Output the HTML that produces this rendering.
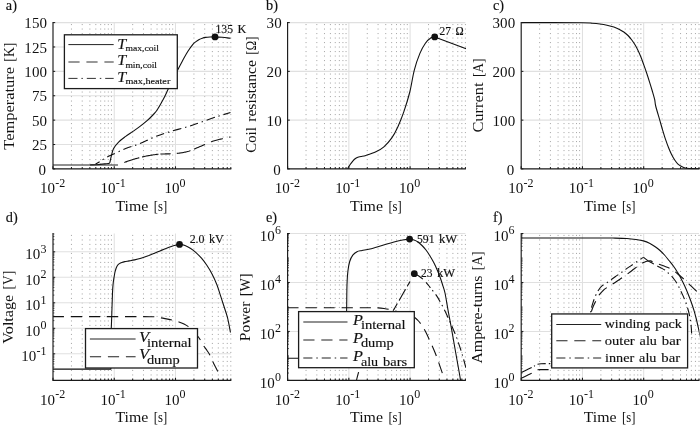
<!DOCTYPE html>
<html><head><meta charset="utf-8"><title>Quench simulation results</title>
<style>html,body{margin:0;padding:0;background:#fff;}body{width:700px;height:426px;overflow:hidden;font-family:"Liberation Serif",serif;}svg{display:block;will-change:transform;opacity:0.999}</style>
</head><body>
<svg width="700" height="426" viewBox="0 0 700 426" fill="#111">
<rect width="700" height="426" fill="#fff"/>
<clipPath id="c00"><rect x="53.00" y="21.60" width="178.40" height="147.80"/></clipPath>
<line x1="71.44" y1="24.00" x2="71.44" y2="168.90" stroke="#aaaaaa" stroke-width="1" stroke-dasharray="1.1 3.4"/>
<line x1="82.22" y1="24.00" x2="82.22" y2="168.90" stroke="#aaaaaa" stroke-width="1" stroke-dasharray="1.1 3.4"/>
<line x1="89.87" y1="24.00" x2="89.87" y2="168.90" stroke="#aaaaaa" stroke-width="1" stroke-dasharray="1.1 3.4"/>
<line x1="95.81" y1="24.00" x2="95.81" y2="168.90" stroke="#aaaaaa" stroke-width="1" stroke-dasharray="1.1 3.4"/>
<line x1="100.66" y1="24.00" x2="100.66" y2="168.90" stroke="#aaaaaa" stroke-width="1" stroke-dasharray="1.1 3.4"/>
<line x1="104.76" y1="24.00" x2="104.76" y2="168.90" stroke="#aaaaaa" stroke-width="1" stroke-dasharray="1.1 3.4"/>
<line x1="108.31" y1="24.00" x2="108.31" y2="168.90" stroke="#aaaaaa" stroke-width="1" stroke-dasharray="1.1 3.4"/>
<line x1="111.44" y1="24.00" x2="111.44" y2="168.90" stroke="#aaaaaa" stroke-width="1" stroke-dasharray="1.1 3.4"/>
<line x1="132.68" y1="24.00" x2="132.68" y2="168.90" stroke="#aaaaaa" stroke-width="1" stroke-dasharray="1.1 3.4"/>
<line x1="143.47" y1="24.00" x2="143.47" y2="168.90" stroke="#aaaaaa" stroke-width="1" stroke-dasharray="1.1 3.4"/>
<line x1="151.12" y1="24.00" x2="151.12" y2="168.90" stroke="#aaaaaa" stroke-width="1" stroke-dasharray="1.1 3.4"/>
<line x1="157.05" y1="24.00" x2="157.05" y2="168.90" stroke="#aaaaaa" stroke-width="1" stroke-dasharray="1.1 3.4"/>
<line x1="161.90" y1="24.00" x2="161.90" y2="168.90" stroke="#aaaaaa" stroke-width="1" stroke-dasharray="1.1 3.4"/>
<line x1="166.00" y1="24.00" x2="166.00" y2="168.90" stroke="#aaaaaa" stroke-width="1" stroke-dasharray="1.1 3.4"/>
<line x1="169.55" y1="24.00" x2="169.55" y2="168.90" stroke="#aaaaaa" stroke-width="1" stroke-dasharray="1.1 3.4"/>
<line x1="172.69" y1="24.00" x2="172.69" y2="168.90" stroke="#aaaaaa" stroke-width="1" stroke-dasharray="1.1 3.4"/>
<line x1="193.93" y1="24.00" x2="193.93" y2="168.90" stroke="#aaaaaa" stroke-width="1" stroke-dasharray="1.1 3.4"/>
<line x1="204.71" y1="24.00" x2="204.71" y2="168.90" stroke="#aaaaaa" stroke-width="1" stroke-dasharray="1.1 3.4"/>
<line x1="212.36" y1="24.00" x2="212.36" y2="168.90" stroke="#aaaaaa" stroke-width="1" stroke-dasharray="1.1 3.4"/>
<line x1="218.30" y1="24.00" x2="218.30" y2="168.90" stroke="#aaaaaa" stroke-width="1" stroke-dasharray="1.1 3.4"/>
<line x1="223.15" y1="24.00" x2="223.15" y2="168.90" stroke="#aaaaaa" stroke-width="1" stroke-dasharray="1.1 3.4"/>
<line x1="227.25" y1="24.00" x2="227.25" y2="168.90" stroke="#aaaaaa" stroke-width="1" stroke-dasharray="1.1 3.4"/>
<line x1="230.80" y1="24.00" x2="230.80" y2="168.90" stroke="#aaaaaa" stroke-width="1" stroke-dasharray="1.1 3.4"/>
<line x1="114.25" y1="22.60" x2="114.25" y2="168.90" stroke="#e0e0e0" stroke-width="1.05"/>
<line x1="175.49" y1="22.60" x2="175.49" y2="168.90" stroke="#e0e0e0" stroke-width="1.05"/>
<line x1="53.00" y1="144.52" x2="230.80" y2="144.52" stroke="#e0e0e0" stroke-width="1.05"/>
<line x1="53.00" y1="120.13" x2="230.80" y2="120.13" stroke="#e0e0e0" stroke-width="1.05"/>
<line x1="53.00" y1="95.75" x2="230.80" y2="95.75" stroke="#e0e0e0" stroke-width="1.05"/>
<line x1="53.00" y1="71.37" x2="230.80" y2="71.37" stroke="#e0e0e0" stroke-width="1.05"/>
<line x1="53.00" y1="46.98" x2="230.80" y2="46.98" stroke="#e0e0e0" stroke-width="1.05"/>
<line x1="53.00" y1="22.60" x2="230.80" y2="22.60" stroke="#e0e0e0" stroke-width="1.05"/>
<path d="M90.00,164.95 C91.17,164.91 94.50,164.88 97.00,164.70 C99.50,164.52 102.95,164.13 105.00,163.90 C107.05,163.67 108.43,163.78 109.30,163.30 C110.17,162.82 109.85,162.27 110.20,161.00 C110.55,159.73 110.83,157.77 111.40,155.70 C111.97,153.63 112.40,150.87 113.60,148.60 C114.80,146.33 116.58,144.13 118.60,142.10 C120.62,140.07 123.32,138.18 125.70,136.40 C128.08,134.62 130.52,133.07 132.90,131.40 C135.28,129.73 137.63,128.18 140.00,126.40 C142.37,124.62 144.95,122.60 147.10,120.70 C149.25,118.80 151.23,116.78 152.90,115.00 C154.57,113.22 155.37,112.62 157.10,110.00 C158.83,107.38 161.40,102.88 163.30,99.30 C165.20,95.72 166.88,91.80 168.50,88.50 C170.12,85.20 171.53,82.47 173.00,79.50 C174.47,76.53 175.75,73.75 177.30,70.70 C178.85,67.65 180.58,64.37 182.30,61.20 C184.02,58.03 185.83,54.52 187.60,51.70 C189.37,48.88 191.50,45.98 192.90,44.30 C194.30,42.62 194.95,42.40 196.00,41.60 C197.05,40.80 198.15,40.07 199.20,39.50 C200.25,38.93 201.25,38.55 202.30,38.20 C203.35,37.85 204.22,37.60 205.50,37.40 C206.78,37.20 208.42,37.08 210.00,37.00 C211.58,36.92 213.00,36.85 215.00,36.90 C217.00,36.95 219.42,37.07 222.00,37.30 C224.58,37.53 229.08,38.13 230.50,38.30" fill="none" stroke="#111" stroke-width="1.1" clip-path="url(#c00)" stroke-linejoin="round" />
<path d="M95.70,164.00 C96.42,163.58 98.57,162.40 100.00,161.50 C101.43,160.60 102.40,159.68 104.30,158.60 C106.20,157.52 107.83,156.67 111.40,155.00 C114.97,153.33 120.93,150.50 125.70,148.60 C130.47,146.70 135.23,145.52 140.00,143.60 C144.77,141.68 149.53,139.02 154.30,137.10 C159.07,135.18 162.88,133.88 168.60,132.10 C174.32,130.32 183.37,128.00 188.60,126.40 C193.83,124.80 195.60,124.02 200.00,122.50 C204.40,120.98 209.92,118.97 215.00,117.30 C220.08,115.63 227.92,113.30 230.50,112.50" fill="none" stroke="#111" stroke-width="1.1" stroke-dasharray="8.7 3.8 1.4 3.8" clip-path="url(#c00)" stroke-linejoin="round" stroke-dashoffset="4.2"/>
<line x1="53" y1="164.95" x2="118" y2="164.95" stroke="#222" stroke-width="1.1"/>
<path d="M124.30,162.40 L124.40,162.40 L124.82,162.26 L125.34,162.07 L125.96,161.86 L126.66,161.61 L127.42,161.35 L128.21,161.07 L129.03,160.78 L129.86,160.50 L130.68,160.22 L131.47,159.96 L132.22,159.72 L132.90,159.50 L133.54,159.31 L134.15,159.12 L134.75,158.95 L135.34,158.79 L135.91,158.63 L136.48,158.47 L137.05,158.33 L137.61,158.18 L138.17,158.04 L138.74,157.89 L139.30,157.75 M142.10,157.02 L142.12,157.02 L142.66,156.88 L143.21,156.74 L143.78,156.60 L144.37,156.46 L144.99,156.32 L145.64,156.18 L146.35,156.04 L147.10,155.90 L147.91,155.75 L148.78,155.60 L149.70,155.44 L150.65,155.29 L151.64,155.13 L152.64,154.97 L153.67,154.82 L154.69,154.67 L155.72,154.53 L156.73,154.41 L157.73,154.30 L158.50,154.22 M160.40,154.08 L160.63,154.06 L161.61,154.01 L162.59,153.98 L163.57,153.95 L164.54,153.93 L165.50,153.92 L166.44,153.90 L167.37,153.88 L168.28,153.86 L169.15,153.84 L170.00,153.80 L170.70,153.77 M176.80,153.41 L177.12,153.38 L177.84,153.30 L178.60,153.20 L179.38,153.09 L180.17,152.98 L180.97,152.86 L181.78,152.73 L182.60,152.60 L183.42,152.45 L184.26,152.29 L185.11,152.11 L185.97,151.92 L186.84,151.70 L187.71,151.46 L188.60,151.20 L189.50,150.91 L190.40,150.59 M194.00,149.17 L194.14,149.11 L195.10,148.70 L196.07,148.28 L197.04,147.86 L198.02,147.44 L199.01,147.02 L200.00,146.60 L201.01,146.17 L202.04,145.73 L203.09,145.26 L204.16,144.79 L205.00,144.41 M211.00,141.86 L211.52,141.65 L212.50,141.30 L213.45,140.98 L214.40,140.69 L215.34,140.42 L216.26,140.17 L217.17,139.93 L218.06,139.72 L218.94,139.52 L219.80,139.32 L220.63,139.14 L221.45,138.96 L222.24,138.78 L222.80,138.65 M229.20,137.27 L229.22,137.26 L229.72,137.16 L230.15,137.07 L230.30,137.04 " fill="none" stroke="#111" stroke-width="1.1" clip-path="url(#c00)" stroke-linejoin="round" />
<line x1="53.00" y1="168.90" x2="53.00" y2="166.30" stroke="#1a1a1a" stroke-width="1.1"/>
<line x1="71.44" y1="168.90" x2="71.44" y2="167.00" stroke="#1a1a1a" stroke-width="1"/>
<line x1="82.22" y1="168.90" x2="82.22" y2="167.00" stroke="#1a1a1a" stroke-width="1"/>
<line x1="89.87" y1="168.90" x2="89.87" y2="167.00" stroke="#1a1a1a" stroke-width="1"/>
<line x1="95.81" y1="168.90" x2="95.81" y2="167.00" stroke="#1a1a1a" stroke-width="1"/>
<line x1="100.66" y1="168.90" x2="100.66" y2="167.00" stroke="#1a1a1a" stroke-width="1"/>
<line x1="104.76" y1="168.90" x2="104.76" y2="167.00" stroke="#1a1a1a" stroke-width="1"/>
<line x1="108.31" y1="168.90" x2="108.31" y2="167.00" stroke="#1a1a1a" stroke-width="1"/>
<line x1="111.44" y1="168.90" x2="111.44" y2="167.00" stroke="#1a1a1a" stroke-width="1"/>
<line x1="114.25" y1="168.90" x2="114.25" y2="166.30" stroke="#1a1a1a" stroke-width="1.1"/>
<line x1="132.68" y1="168.90" x2="132.68" y2="167.00" stroke="#1a1a1a" stroke-width="1"/>
<line x1="143.47" y1="168.90" x2="143.47" y2="167.00" stroke="#1a1a1a" stroke-width="1"/>
<line x1="151.12" y1="168.90" x2="151.12" y2="167.00" stroke="#1a1a1a" stroke-width="1"/>
<line x1="157.05" y1="168.90" x2="157.05" y2="167.00" stroke="#1a1a1a" stroke-width="1"/>
<line x1="161.90" y1="168.90" x2="161.90" y2="167.00" stroke="#1a1a1a" stroke-width="1"/>
<line x1="166.00" y1="168.90" x2="166.00" y2="167.00" stroke="#1a1a1a" stroke-width="1"/>
<line x1="169.55" y1="168.90" x2="169.55" y2="167.00" stroke="#1a1a1a" stroke-width="1"/>
<line x1="172.69" y1="168.90" x2="172.69" y2="167.00" stroke="#1a1a1a" stroke-width="1"/>
<line x1="175.49" y1="168.90" x2="175.49" y2="166.30" stroke="#1a1a1a" stroke-width="1.1"/>
<line x1="193.93" y1="168.90" x2="193.93" y2="167.00" stroke="#1a1a1a" stroke-width="1"/>
<line x1="204.71" y1="168.90" x2="204.71" y2="167.00" stroke="#1a1a1a" stroke-width="1"/>
<line x1="212.36" y1="168.90" x2="212.36" y2="167.00" stroke="#1a1a1a" stroke-width="1"/>
<line x1="218.30" y1="168.90" x2="218.30" y2="167.00" stroke="#1a1a1a" stroke-width="1"/>
<line x1="223.15" y1="168.90" x2="223.15" y2="167.00" stroke="#1a1a1a" stroke-width="1"/>
<line x1="227.25" y1="168.90" x2="227.25" y2="167.00" stroke="#1a1a1a" stroke-width="1"/>
<line x1="230.80" y1="168.90" x2="230.80" y2="167.00" stroke="#1a1a1a" stroke-width="1"/>
<line x1="53.00" y1="168.90" x2="55.20" y2="168.90" stroke="#1a1a1a" stroke-width="1"/>
<line x1="53.00" y1="144.52" x2="55.20" y2="144.52" stroke="#1a1a1a" stroke-width="1"/>
<line x1="53.00" y1="120.13" x2="55.20" y2="120.13" stroke="#1a1a1a" stroke-width="1"/>
<line x1="53.00" y1="95.75" x2="55.20" y2="95.75" stroke="#1a1a1a" stroke-width="1"/>
<line x1="53.00" y1="71.37" x2="55.20" y2="71.37" stroke="#1a1a1a" stroke-width="1"/>
<line x1="53.00" y1="46.98" x2="55.20" y2="46.98" stroke="#1a1a1a" stroke-width="1"/>
<line x1="53.00" y1="22.60" x2="55.20" y2="22.60" stroke="#1a1a1a" stroke-width="1"/>
<path d="M53.00,22.10 L53.00,168.90 L231.30,168.90" fill="none" stroke="#1a1a1a" stroke-width="1.15"/>
<text x="40.10" y="193.30" font-size="15" font-family="Liberation Serif, serif">10<tspan dy="-6.7" dx="0.2" font-size="12">-2</tspan></text>
<text x="100.55" y="193.30" font-size="15" font-family="Liberation Serif, serif">10<tspan dy="-6.7" dx="0.2" font-size="12">-1</tspan></text>
<text x="164.39" y="193.30" font-size="15" font-family="Liberation Serif, serif">10<tspan dy="-6.7" dx="0.2" font-size="12">0</tspan></text>
<text x="46.20" y="175.30" font-size="15" text-anchor="end" letter-spacing="0.15" font-family="Liberation Serif, serif">0</text>
<text x="47.20" y="150.22" font-size="15" text-anchor="end" letter-spacing="0.15" font-family="Liberation Serif, serif">25</text>
<text x="47.20" y="125.83" font-size="15" text-anchor="end" letter-spacing="0.15" font-family="Liberation Serif, serif">50</text>
<text x="47.20" y="101.45" font-size="15" text-anchor="end" letter-spacing="0.15" font-family="Liberation Serif, serif">75</text>
<text x="47.20" y="77.07" font-size="15" text-anchor="end" letter-spacing="0.15" font-family="Liberation Serif, serif">100</text>
<text x="47.20" y="52.68" font-size="15" text-anchor="end" letter-spacing="0.15" font-family="Liberation Serif, serif">125</text>
<text x="47.20" y="28.30" font-size="15" text-anchor="end" letter-spacing="0.15" font-family="Liberation Serif, serif">150</text>
<text x="115.49" y="210.90" font-size="14.82" textLength="32.90" lengthAdjust="spacingAndGlyphs"  font-family="Liberation Serif, serif">Time</text>
<text x="153.78" y="210.90" font-size="14.82" textLength="13.44" lengthAdjust="spacingAndGlyphs"  font-family="Liberation Serif, serif">[s]</text>
<g transform="translate(13.70,96.10) rotate(-90)"><text x="-53.63" y="0" font-size="14.82" textLength="82.71" lengthAdjust="spacingAndGlyphs"  font-family="Liberation Serif, serif">Temperature</text><text x="34.46" y="0" font-size="14.82" textLength="19.07" lengthAdjust="spacingAndGlyphs"  font-family="Liberation Serif, serif">[K]</text></g>
<text x="5.80" y="10.20" font-size="14.3" stroke="#111" stroke-width="0.15" font-family="Liberation Serif, serif">a)</text>
<circle cx="215.00" cy="36.90" r="3.4" fill="#111"/>
<text x="215.50" y="33.00" font-size="12.50" textLength="17.50" lengthAdjust="spacingAndGlyphs" stroke="#111" stroke-width="0.15" font-family="Liberation Serif, serif">135</text>
<text x="237.50" y="33.00" font-size="12.50" textLength="8.84" lengthAdjust="spacingAndGlyphs" stroke="#111" stroke-width="0.15" font-family="Liberation Serif, serif">K</text>
<rect x="64.40" y="34.80" width="112.90" height="53.80" fill="#fff" stroke="#1c1c1c" stroke-width="1.3"/>
<line x1="68.40" y1="44.60" x2="113.70" y2="44.60" stroke="#222" stroke-width="1.0"/>
<text x="117.20" y="48.60" font-size="13.6" font-style="italic" textLength="8.9" lengthAdjust="spacingAndGlyphs" stroke="#111" stroke-width="0.15" font-family="Liberation Serif, serif">T</text>
<text x="125.40" y="51.00" font-size="9.14" textLength="33.45" lengthAdjust="spacingAndGlyphs" stroke="#111" stroke-width="0.15" font-family="Liberation Serif, serif">max,coil</text>
<line x1="68.40" y1="62.00" x2="113.70" y2="62.00" stroke="#333" stroke-width="1.1" stroke-dasharray="11.2 6.8"/>
<text x="117.20" y="65.30" font-size="13.6" font-style="italic" textLength="8.9" lengthAdjust="spacingAndGlyphs" stroke="#111" stroke-width="0.15" font-family="Liberation Serif, serif">T</text>
<text x="125.40" y="67.70" font-size="9.14" textLength="31.64" lengthAdjust="spacingAndGlyphs" stroke="#111" stroke-width="0.15" font-family="Liberation Serif, serif">min,coil</text>
<line x1="68.40" y1="78.40" x2="113.70" y2="78.40" stroke="#333" stroke-width="1.0" stroke-dasharray="9.1 3.9 1.5 3.9"/>
<text x="117.20" y="82.00" font-size="13.6" font-style="italic" textLength="8.9" lengthAdjust="spacingAndGlyphs" stroke="#111" stroke-width="0.15" font-family="Liberation Serif, serif">T</text>
<text x="125.40" y="84.40" font-size="9.14" textLength="44.88" lengthAdjust="spacingAndGlyphs" stroke="#111" stroke-width="0.15" font-family="Liberation Serif, serif">max,heater</text>
<clipPath id="c10"><rect x="287.60" y="21.60" width="178.40" height="147.80"/></clipPath>
<line x1="306.04" y1="24.00" x2="306.04" y2="168.90" stroke="#aaaaaa" stroke-width="1" stroke-dasharray="1.1 3.4"/>
<line x1="316.82" y1="24.00" x2="316.82" y2="168.90" stroke="#aaaaaa" stroke-width="1" stroke-dasharray="1.1 3.4"/>
<line x1="324.47" y1="24.00" x2="324.47" y2="168.90" stroke="#aaaaaa" stroke-width="1" stroke-dasharray="1.1 3.4"/>
<line x1="330.41" y1="24.00" x2="330.41" y2="168.90" stroke="#aaaaaa" stroke-width="1" stroke-dasharray="1.1 3.4"/>
<line x1="335.26" y1="24.00" x2="335.26" y2="168.90" stroke="#aaaaaa" stroke-width="1" stroke-dasharray="1.1 3.4"/>
<line x1="339.36" y1="24.00" x2="339.36" y2="168.90" stroke="#aaaaaa" stroke-width="1" stroke-dasharray="1.1 3.4"/>
<line x1="342.91" y1="24.00" x2="342.91" y2="168.90" stroke="#aaaaaa" stroke-width="1" stroke-dasharray="1.1 3.4"/>
<line x1="346.04" y1="24.00" x2="346.04" y2="168.90" stroke="#aaaaaa" stroke-width="1" stroke-dasharray="1.1 3.4"/>
<line x1="367.28" y1="24.00" x2="367.28" y2="168.90" stroke="#aaaaaa" stroke-width="1" stroke-dasharray="1.1 3.4"/>
<line x1="378.07" y1="24.00" x2="378.07" y2="168.90" stroke="#aaaaaa" stroke-width="1" stroke-dasharray="1.1 3.4"/>
<line x1="385.72" y1="24.00" x2="385.72" y2="168.90" stroke="#aaaaaa" stroke-width="1" stroke-dasharray="1.1 3.4"/>
<line x1="391.65" y1="24.00" x2="391.65" y2="168.90" stroke="#aaaaaa" stroke-width="1" stroke-dasharray="1.1 3.4"/>
<line x1="396.50" y1="24.00" x2="396.50" y2="168.90" stroke="#aaaaaa" stroke-width="1" stroke-dasharray="1.1 3.4"/>
<line x1="400.60" y1="24.00" x2="400.60" y2="168.90" stroke="#aaaaaa" stroke-width="1" stroke-dasharray="1.1 3.4"/>
<line x1="404.15" y1="24.00" x2="404.15" y2="168.90" stroke="#aaaaaa" stroke-width="1" stroke-dasharray="1.1 3.4"/>
<line x1="407.29" y1="24.00" x2="407.29" y2="168.90" stroke="#aaaaaa" stroke-width="1" stroke-dasharray="1.1 3.4"/>
<line x1="428.53" y1="24.00" x2="428.53" y2="168.90" stroke="#aaaaaa" stroke-width="1" stroke-dasharray="1.1 3.4"/>
<line x1="439.31" y1="24.00" x2="439.31" y2="168.90" stroke="#aaaaaa" stroke-width="1" stroke-dasharray="1.1 3.4"/>
<line x1="446.96" y1="24.00" x2="446.96" y2="168.90" stroke="#aaaaaa" stroke-width="1" stroke-dasharray="1.1 3.4"/>
<line x1="452.90" y1="24.00" x2="452.90" y2="168.90" stroke="#aaaaaa" stroke-width="1" stroke-dasharray="1.1 3.4"/>
<line x1="457.75" y1="24.00" x2="457.75" y2="168.90" stroke="#aaaaaa" stroke-width="1" stroke-dasharray="1.1 3.4"/>
<line x1="461.85" y1="24.00" x2="461.85" y2="168.90" stroke="#aaaaaa" stroke-width="1" stroke-dasharray="1.1 3.4"/>
<line x1="465.40" y1="24.00" x2="465.40" y2="168.90" stroke="#aaaaaa" stroke-width="1" stroke-dasharray="1.1 3.4"/>
<line x1="348.85" y1="22.60" x2="348.85" y2="168.90" stroke="#e0e0e0" stroke-width="1.05"/>
<line x1="410.09" y1="22.60" x2="410.09" y2="168.90" stroke="#e0e0e0" stroke-width="1.05"/>
<line x1="287.60" y1="120.13" x2="465.40" y2="120.13" stroke="#e0e0e0" stroke-width="1.05"/>
<line x1="287.60" y1="71.37" x2="465.40" y2="71.37" stroke="#e0e0e0" stroke-width="1.05"/>
<line x1="287.60" y1="22.60" x2="465.40" y2="22.60" stroke="#e0e0e0" stroke-width="1.05"/>
<path d="M347.60,168.80 C348.00,168.13 349.10,166.13 350.00,164.80 C350.90,163.47 352.08,161.85 353.00,160.80 C353.92,159.75 354.68,159.10 355.50,158.50 C356.32,157.90 356.98,157.53 357.90,157.20 C358.82,156.87 359.67,156.80 361.00,156.50 C362.33,156.20 363.42,156.18 365.90,155.40 C368.38,154.62 372.90,153.23 375.90,151.80 C378.90,150.37 381.25,149.12 383.90,146.80 C386.55,144.48 389.48,141.22 391.80,137.90 C394.12,134.58 395.80,131.23 397.80,126.90 C399.80,122.57 401.80,117.72 403.80,111.90 C405.80,106.08 408.05,98.97 409.80,92.00 C411.55,85.03 412.62,76.53 414.30,70.10 C415.98,63.67 418.05,57.88 419.90,53.40 C421.75,48.92 423.55,45.80 425.40,43.20 C427.25,40.60 429.45,38.85 431.00,37.80 C432.55,36.75 434.08,37.05 434.70,36.90 L464.8,48.2 L466,48.7" fill="none" stroke="#111" stroke-width="1.1" clip-path="url(#c10)" stroke-linejoin="round" />
<line x1="287.60" y1="168.90" x2="287.60" y2="166.30" stroke="#1a1a1a" stroke-width="1.1"/>
<line x1="306.04" y1="168.90" x2="306.04" y2="167.00" stroke="#1a1a1a" stroke-width="1"/>
<line x1="316.82" y1="168.90" x2="316.82" y2="167.00" stroke="#1a1a1a" stroke-width="1"/>
<line x1="324.47" y1="168.90" x2="324.47" y2="167.00" stroke="#1a1a1a" stroke-width="1"/>
<line x1="330.41" y1="168.90" x2="330.41" y2="167.00" stroke="#1a1a1a" stroke-width="1"/>
<line x1="335.26" y1="168.90" x2="335.26" y2="167.00" stroke="#1a1a1a" stroke-width="1"/>
<line x1="339.36" y1="168.90" x2="339.36" y2="167.00" stroke="#1a1a1a" stroke-width="1"/>
<line x1="342.91" y1="168.90" x2="342.91" y2="167.00" stroke="#1a1a1a" stroke-width="1"/>
<line x1="346.04" y1="168.90" x2="346.04" y2="167.00" stroke="#1a1a1a" stroke-width="1"/>
<line x1="348.85" y1="168.90" x2="348.85" y2="166.30" stroke="#1a1a1a" stroke-width="1.1"/>
<line x1="367.28" y1="168.90" x2="367.28" y2="167.00" stroke="#1a1a1a" stroke-width="1"/>
<line x1="378.07" y1="168.90" x2="378.07" y2="167.00" stroke="#1a1a1a" stroke-width="1"/>
<line x1="385.72" y1="168.90" x2="385.72" y2="167.00" stroke="#1a1a1a" stroke-width="1"/>
<line x1="391.65" y1="168.90" x2="391.65" y2="167.00" stroke="#1a1a1a" stroke-width="1"/>
<line x1="396.50" y1="168.90" x2="396.50" y2="167.00" stroke="#1a1a1a" stroke-width="1"/>
<line x1="400.60" y1="168.90" x2="400.60" y2="167.00" stroke="#1a1a1a" stroke-width="1"/>
<line x1="404.15" y1="168.90" x2="404.15" y2="167.00" stroke="#1a1a1a" stroke-width="1"/>
<line x1="407.29" y1="168.90" x2="407.29" y2="167.00" stroke="#1a1a1a" stroke-width="1"/>
<line x1="410.09" y1="168.90" x2="410.09" y2="166.30" stroke="#1a1a1a" stroke-width="1.1"/>
<line x1="428.53" y1="168.90" x2="428.53" y2="167.00" stroke="#1a1a1a" stroke-width="1"/>
<line x1="439.31" y1="168.90" x2="439.31" y2="167.00" stroke="#1a1a1a" stroke-width="1"/>
<line x1="446.96" y1="168.90" x2="446.96" y2="167.00" stroke="#1a1a1a" stroke-width="1"/>
<line x1="452.90" y1="168.90" x2="452.90" y2="167.00" stroke="#1a1a1a" stroke-width="1"/>
<line x1="457.75" y1="168.90" x2="457.75" y2="167.00" stroke="#1a1a1a" stroke-width="1"/>
<line x1="461.85" y1="168.90" x2="461.85" y2="167.00" stroke="#1a1a1a" stroke-width="1"/>
<line x1="465.40" y1="168.90" x2="465.40" y2="167.00" stroke="#1a1a1a" stroke-width="1"/>
<line x1="287.60" y1="168.90" x2="289.80" y2="168.90" stroke="#1a1a1a" stroke-width="1"/>
<line x1="287.60" y1="120.13" x2="289.80" y2="120.13" stroke="#1a1a1a" stroke-width="1"/>
<line x1="287.60" y1="71.37" x2="289.80" y2="71.37" stroke="#1a1a1a" stroke-width="1"/>
<line x1="287.60" y1="22.60" x2="289.80" y2="22.60" stroke="#1a1a1a" stroke-width="1"/>
<path d="M287.60,22.10 L287.60,168.90 L465.90,168.90" fill="none" stroke="#1a1a1a" stroke-width="1.15"/>
<text x="274.70" y="193.30" font-size="15" font-family="Liberation Serif, serif">10<tspan dy="-6.7" dx="0.2" font-size="12">-2</tspan></text>
<text x="335.15" y="193.30" font-size="15" font-family="Liberation Serif, serif">10<tspan dy="-6.7" dx="0.2" font-size="12">-1</tspan></text>
<text x="398.99" y="193.30" font-size="15" font-family="Liberation Serif, serif">10<tspan dy="-6.7" dx="0.2" font-size="12">0</tspan></text>
<text x="280.80" y="175.30" font-size="15" text-anchor="end" letter-spacing="0.15" font-family="Liberation Serif, serif">0</text>
<text x="281.80" y="125.83" font-size="15" text-anchor="end" letter-spacing="0.15" font-family="Liberation Serif, serif">10</text>
<text x="281.80" y="77.07" font-size="15" text-anchor="end" letter-spacing="0.15" font-family="Liberation Serif, serif">20</text>
<text x="281.80" y="28.30" font-size="15" text-anchor="end" letter-spacing="0.15" font-family="Liberation Serif, serif">30</text>
<text x="350.09" y="210.90" font-size="14.82" textLength="32.90" lengthAdjust="spacingAndGlyphs"  font-family="Liberation Serif, serif">Time</text>
<text x="388.38" y="210.90" font-size="14.82" textLength="13.44" lengthAdjust="spacingAndGlyphs"  font-family="Liberation Serif, serif">[s]</text>
<g transform="translate(256.30,94.60) rotate(-90)"><text x="-58.16" y="0" font-size="14.82" textLength="25.58" lengthAdjust="spacingAndGlyphs"  font-family="Liberation Serif, serif">Coil</text><text x="-27.20" y="0" font-size="14.82" textLength="61.63" lengthAdjust="spacingAndGlyphs"  font-family="Liberation Serif, serif">resistance</text><text x="39.82" y="0" font-size="14.82" textLength="18.25" lengthAdjust="spacingAndGlyphs"  font-family="Liberation Serif, serif">[Ω]</text></g>
<text x="266.00" y="10.20" font-size="14.3" stroke="#111" stroke-width="0.15" font-family="Liberation Serif, serif">b)</text>
<circle cx="434.70" cy="36.90" r="3.4" fill="#111"/>
<text x="439.40" y="34.50" font-size="12.50" textLength="11.50" lengthAdjust="spacingAndGlyphs" stroke="#111" stroke-width="0.15" font-family="Liberation Serif, serif">27</text>
<text x="455.40" y="34.50" font-size="12.50" textLength="8.16" lengthAdjust="spacingAndGlyphs" stroke="#111" stroke-width="0.15" font-family="Liberation Serif, serif">Ω</text>
<clipPath id="c20"><rect x="521.20" y="21.60" width="178.40" height="147.80"/></clipPath>
<line x1="539.64" y1="24.00" x2="539.64" y2="168.90" stroke="#aaaaaa" stroke-width="1" stroke-dasharray="1.1 3.4"/>
<line x1="550.42" y1="24.00" x2="550.42" y2="168.90" stroke="#aaaaaa" stroke-width="1" stroke-dasharray="1.1 3.4"/>
<line x1="558.07" y1="24.00" x2="558.07" y2="168.90" stroke="#aaaaaa" stroke-width="1" stroke-dasharray="1.1 3.4"/>
<line x1="564.01" y1="24.00" x2="564.01" y2="168.90" stroke="#aaaaaa" stroke-width="1" stroke-dasharray="1.1 3.4"/>
<line x1="568.86" y1="24.00" x2="568.86" y2="168.90" stroke="#aaaaaa" stroke-width="1" stroke-dasharray="1.1 3.4"/>
<line x1="572.96" y1="24.00" x2="572.96" y2="168.90" stroke="#aaaaaa" stroke-width="1" stroke-dasharray="1.1 3.4"/>
<line x1="576.51" y1="24.00" x2="576.51" y2="168.90" stroke="#aaaaaa" stroke-width="1" stroke-dasharray="1.1 3.4"/>
<line x1="579.64" y1="24.00" x2="579.64" y2="168.90" stroke="#aaaaaa" stroke-width="1" stroke-dasharray="1.1 3.4"/>
<line x1="600.88" y1="24.00" x2="600.88" y2="168.90" stroke="#aaaaaa" stroke-width="1" stroke-dasharray="1.1 3.4"/>
<line x1="611.67" y1="24.00" x2="611.67" y2="168.90" stroke="#aaaaaa" stroke-width="1" stroke-dasharray="1.1 3.4"/>
<line x1="619.32" y1="24.00" x2="619.32" y2="168.90" stroke="#aaaaaa" stroke-width="1" stroke-dasharray="1.1 3.4"/>
<line x1="625.25" y1="24.00" x2="625.25" y2="168.90" stroke="#aaaaaa" stroke-width="1" stroke-dasharray="1.1 3.4"/>
<line x1="630.10" y1="24.00" x2="630.10" y2="168.90" stroke="#aaaaaa" stroke-width="1" stroke-dasharray="1.1 3.4"/>
<line x1="634.20" y1="24.00" x2="634.20" y2="168.90" stroke="#aaaaaa" stroke-width="1" stroke-dasharray="1.1 3.4"/>
<line x1="637.75" y1="24.00" x2="637.75" y2="168.90" stroke="#aaaaaa" stroke-width="1" stroke-dasharray="1.1 3.4"/>
<line x1="640.89" y1="24.00" x2="640.89" y2="168.90" stroke="#aaaaaa" stroke-width="1" stroke-dasharray="1.1 3.4"/>
<line x1="662.13" y1="24.00" x2="662.13" y2="168.90" stroke="#aaaaaa" stroke-width="1" stroke-dasharray="1.1 3.4"/>
<line x1="672.91" y1="24.00" x2="672.91" y2="168.90" stroke="#aaaaaa" stroke-width="1" stroke-dasharray="1.1 3.4"/>
<line x1="680.56" y1="24.00" x2="680.56" y2="168.90" stroke="#aaaaaa" stroke-width="1" stroke-dasharray="1.1 3.4"/>
<line x1="686.50" y1="24.00" x2="686.50" y2="168.90" stroke="#aaaaaa" stroke-width="1" stroke-dasharray="1.1 3.4"/>
<line x1="691.35" y1="24.00" x2="691.35" y2="168.90" stroke="#aaaaaa" stroke-width="1" stroke-dasharray="1.1 3.4"/>
<line x1="695.45" y1="24.00" x2="695.45" y2="168.90" stroke="#aaaaaa" stroke-width="1" stroke-dasharray="1.1 3.4"/>
<line x1="699.00" y1="24.00" x2="699.00" y2="168.90" stroke="#aaaaaa" stroke-width="1" stroke-dasharray="1.1 3.4"/>
<line x1="582.45" y1="22.60" x2="582.45" y2="168.90" stroke="#e0e0e0" stroke-width="1.05"/>
<line x1="643.69" y1="22.60" x2="643.69" y2="168.90" stroke="#e0e0e0" stroke-width="1.05"/>
<line x1="521.20" y1="120.13" x2="699.00" y2="120.13" stroke="#e0e0e0" stroke-width="1.05"/>
<line x1="521.20" y1="71.37" x2="699.00" y2="71.37" stroke="#e0e0e0" stroke-width="1.05"/>
<line x1="521.20" y1="22.60" x2="699.00" y2="22.60" stroke="#e0e0e0" stroke-width="1.05"/>
<path d="M521.70,22.60 C531.75,22.62 570.28,22.60 582.00,22.70 C593.72,22.80 589.00,22.98 592.00,23.20 C595.00,23.42 597.50,23.67 600.00,24.00 C602.50,24.33 604.68,24.70 607.00,25.20 C609.32,25.70 611.90,26.33 613.90,27.00 C615.90,27.67 617.35,28.37 619.00,29.20 C620.65,30.03 622.30,30.95 623.80,32.00 C625.30,33.05 626.67,34.17 628.00,35.50 C629.33,36.83 630.63,38.45 631.80,40.00 C632.97,41.55 634.00,43.13 635.00,44.80 C636.00,46.47 636.83,48.00 637.80,50.00 C638.77,52.00 639.80,54.32 640.80,56.80 C641.80,59.28 642.80,62.12 643.80,64.90 C644.80,67.68 645.80,70.52 646.80,73.50 C647.80,76.48 648.88,79.88 649.80,82.80 C650.72,85.72 651.48,88.18 652.30,91.00 C653.12,93.82 654.13,97.20 654.70,99.70 C655.27,102.20 654.87,102.63 655.70,106.00 C656.53,109.37 658.53,115.85 659.70,119.90 C660.87,123.95 661.70,126.97 662.70,130.30 C663.70,133.63 664.70,136.95 665.70,139.90 C666.70,142.85 667.70,145.52 668.70,148.00 C669.70,150.48 670.70,152.80 671.70,154.80 C672.70,156.80 673.70,158.50 674.70,160.00 C675.70,161.50 676.70,162.80 677.70,163.80 C678.70,164.80 679.70,165.40 680.70,166.00 C681.70,166.60 682.65,167.03 683.70,167.40 C684.75,167.77 685.68,168.00 687.00,168.20 C688.32,168.40 689.43,168.52 691.60,168.60 C693.77,168.68 698.60,168.68 700.00,168.70" fill="none" stroke="#111" stroke-width="1.1" clip-path="url(#c20)" stroke-linejoin="round" />
<line x1="521.20" y1="168.90" x2="521.20" y2="166.30" stroke="#1a1a1a" stroke-width="1.1"/>
<line x1="539.64" y1="168.90" x2="539.64" y2="167.00" stroke="#1a1a1a" stroke-width="1"/>
<line x1="550.42" y1="168.90" x2="550.42" y2="167.00" stroke="#1a1a1a" stroke-width="1"/>
<line x1="558.07" y1="168.90" x2="558.07" y2="167.00" stroke="#1a1a1a" stroke-width="1"/>
<line x1="564.01" y1="168.90" x2="564.01" y2="167.00" stroke="#1a1a1a" stroke-width="1"/>
<line x1="568.86" y1="168.90" x2="568.86" y2="167.00" stroke="#1a1a1a" stroke-width="1"/>
<line x1="572.96" y1="168.90" x2="572.96" y2="167.00" stroke="#1a1a1a" stroke-width="1"/>
<line x1="576.51" y1="168.90" x2="576.51" y2="167.00" stroke="#1a1a1a" stroke-width="1"/>
<line x1="579.64" y1="168.90" x2="579.64" y2="167.00" stroke="#1a1a1a" stroke-width="1"/>
<line x1="582.45" y1="168.90" x2="582.45" y2="166.30" stroke="#1a1a1a" stroke-width="1.1"/>
<line x1="600.88" y1="168.90" x2="600.88" y2="167.00" stroke="#1a1a1a" stroke-width="1"/>
<line x1="611.67" y1="168.90" x2="611.67" y2="167.00" stroke="#1a1a1a" stroke-width="1"/>
<line x1="619.32" y1="168.90" x2="619.32" y2="167.00" stroke="#1a1a1a" stroke-width="1"/>
<line x1="625.25" y1="168.90" x2="625.25" y2="167.00" stroke="#1a1a1a" stroke-width="1"/>
<line x1="630.10" y1="168.90" x2="630.10" y2="167.00" stroke="#1a1a1a" stroke-width="1"/>
<line x1="634.20" y1="168.90" x2="634.20" y2="167.00" stroke="#1a1a1a" stroke-width="1"/>
<line x1="637.75" y1="168.90" x2="637.75" y2="167.00" stroke="#1a1a1a" stroke-width="1"/>
<line x1="640.89" y1="168.90" x2="640.89" y2="167.00" stroke="#1a1a1a" stroke-width="1"/>
<line x1="643.69" y1="168.90" x2="643.69" y2="166.30" stroke="#1a1a1a" stroke-width="1.1"/>
<line x1="662.13" y1="168.90" x2="662.13" y2="167.00" stroke="#1a1a1a" stroke-width="1"/>
<line x1="672.91" y1="168.90" x2="672.91" y2="167.00" stroke="#1a1a1a" stroke-width="1"/>
<line x1="680.56" y1="168.90" x2="680.56" y2="167.00" stroke="#1a1a1a" stroke-width="1"/>
<line x1="686.50" y1="168.90" x2="686.50" y2="167.00" stroke="#1a1a1a" stroke-width="1"/>
<line x1="691.35" y1="168.90" x2="691.35" y2="167.00" stroke="#1a1a1a" stroke-width="1"/>
<line x1="695.45" y1="168.90" x2="695.45" y2="167.00" stroke="#1a1a1a" stroke-width="1"/>
<line x1="699.00" y1="168.90" x2="699.00" y2="167.00" stroke="#1a1a1a" stroke-width="1"/>
<line x1="521.20" y1="168.90" x2="523.40" y2="168.90" stroke="#1a1a1a" stroke-width="1"/>
<line x1="521.20" y1="120.13" x2="523.40" y2="120.13" stroke="#1a1a1a" stroke-width="1"/>
<line x1="521.20" y1="71.37" x2="523.40" y2="71.37" stroke="#1a1a1a" stroke-width="1"/>
<line x1="521.20" y1="22.60" x2="523.40" y2="22.60" stroke="#1a1a1a" stroke-width="1"/>
<path d="M521.20,22.10 L521.20,168.90 L699.50,168.90" fill="none" stroke="#1a1a1a" stroke-width="1.15"/>
<text x="508.30" y="193.30" font-size="15" font-family="Liberation Serif, serif">10<tspan dy="-6.7" dx="0.2" font-size="12">-2</tspan></text>
<text x="568.75" y="193.30" font-size="15" font-family="Liberation Serif, serif">10<tspan dy="-6.7" dx="0.2" font-size="12">-1</tspan></text>
<text x="632.59" y="193.30" font-size="15" font-family="Liberation Serif, serif">10<tspan dy="-6.7" dx="0.2" font-size="12">0</tspan></text>
<text x="514.40" y="175.30" font-size="15" text-anchor="end" letter-spacing="0.15" font-family="Liberation Serif, serif">0</text>
<text x="515.40" y="125.83" font-size="15" text-anchor="end" letter-spacing="0.15" font-family="Liberation Serif, serif">100</text>
<text x="515.40" y="77.07" font-size="15" text-anchor="end" letter-spacing="0.15" font-family="Liberation Serif, serif">200</text>
<text x="515.40" y="28.30" font-size="15" text-anchor="end" letter-spacing="0.15" font-family="Liberation Serif, serif">300</text>
<text x="583.69" y="210.90" font-size="14.82" textLength="32.90" lengthAdjust="spacingAndGlyphs"  font-family="Liberation Serif, serif">Time</text>
<text x="621.98" y="210.90" font-size="14.82" textLength="13.44" lengthAdjust="spacingAndGlyphs"  font-family="Liberation Serif, serif">[s]</text>
<g transform="translate(482.90,95.50) rotate(-90)"><text x="-37.14" y="0" font-size="14.82" textLength="50.13" lengthAdjust="spacingAndGlyphs"  font-family="Liberation Serif, serif">Current</text><text x="18.38" y="0" font-size="14.82" textLength="18.66" lengthAdjust="spacingAndGlyphs"  font-family="Liberation Serif, serif">[A]</text></g>
<text x="493.00" y="10.20" font-size="14.3" stroke="#111" stroke-width="0.15" font-family="Liberation Serif, serif">c)</text>
<clipPath id="c01"><rect x="53.00" y="232.50" width="178.40" height="148.40"/></clipPath>
<line x1="71.44" y1="234.90" x2="71.44" y2="380.40" stroke="#aaaaaa" stroke-width="1" stroke-dasharray="1.1 3.4"/>
<line x1="82.22" y1="234.90" x2="82.22" y2="380.40" stroke="#aaaaaa" stroke-width="1" stroke-dasharray="1.1 3.4"/>
<line x1="89.87" y1="234.90" x2="89.87" y2="380.40" stroke="#aaaaaa" stroke-width="1" stroke-dasharray="1.1 3.4"/>
<line x1="95.81" y1="234.90" x2="95.81" y2="380.40" stroke="#aaaaaa" stroke-width="1" stroke-dasharray="1.1 3.4"/>
<line x1="100.66" y1="234.90" x2="100.66" y2="380.40" stroke="#aaaaaa" stroke-width="1" stroke-dasharray="1.1 3.4"/>
<line x1="104.76" y1="234.90" x2="104.76" y2="380.40" stroke="#aaaaaa" stroke-width="1" stroke-dasharray="1.1 3.4"/>
<line x1="108.31" y1="234.90" x2="108.31" y2="380.40" stroke="#aaaaaa" stroke-width="1" stroke-dasharray="1.1 3.4"/>
<line x1="111.44" y1="234.90" x2="111.44" y2="380.40" stroke="#aaaaaa" stroke-width="1" stroke-dasharray="1.1 3.4"/>
<line x1="132.68" y1="234.90" x2="132.68" y2="380.40" stroke="#aaaaaa" stroke-width="1" stroke-dasharray="1.1 3.4"/>
<line x1="143.47" y1="234.90" x2="143.47" y2="380.40" stroke="#aaaaaa" stroke-width="1" stroke-dasharray="1.1 3.4"/>
<line x1="151.12" y1="234.90" x2="151.12" y2="380.40" stroke="#aaaaaa" stroke-width="1" stroke-dasharray="1.1 3.4"/>
<line x1="157.05" y1="234.90" x2="157.05" y2="380.40" stroke="#aaaaaa" stroke-width="1" stroke-dasharray="1.1 3.4"/>
<line x1="161.90" y1="234.90" x2="161.90" y2="380.40" stroke="#aaaaaa" stroke-width="1" stroke-dasharray="1.1 3.4"/>
<line x1="166.00" y1="234.90" x2="166.00" y2="380.40" stroke="#aaaaaa" stroke-width="1" stroke-dasharray="1.1 3.4"/>
<line x1="169.55" y1="234.90" x2="169.55" y2="380.40" stroke="#aaaaaa" stroke-width="1" stroke-dasharray="1.1 3.4"/>
<line x1="172.69" y1="234.90" x2="172.69" y2="380.40" stroke="#aaaaaa" stroke-width="1" stroke-dasharray="1.1 3.4"/>
<line x1="193.93" y1="234.90" x2="193.93" y2="380.40" stroke="#aaaaaa" stroke-width="1" stroke-dasharray="1.1 3.4"/>
<line x1="204.71" y1="234.90" x2="204.71" y2="380.40" stroke="#aaaaaa" stroke-width="1" stroke-dasharray="1.1 3.4"/>
<line x1="212.36" y1="234.90" x2="212.36" y2="380.40" stroke="#aaaaaa" stroke-width="1" stroke-dasharray="1.1 3.4"/>
<line x1="218.30" y1="234.90" x2="218.30" y2="380.40" stroke="#aaaaaa" stroke-width="1" stroke-dasharray="1.1 3.4"/>
<line x1="223.15" y1="234.90" x2="223.15" y2="380.40" stroke="#aaaaaa" stroke-width="1" stroke-dasharray="1.1 3.4"/>
<line x1="227.25" y1="234.90" x2="227.25" y2="380.40" stroke="#aaaaaa" stroke-width="1" stroke-dasharray="1.1 3.4"/>
<line x1="230.80" y1="234.90" x2="230.80" y2="380.40" stroke="#aaaaaa" stroke-width="1" stroke-dasharray="1.1 3.4"/>
<line x1="114.25" y1="233.50" x2="114.25" y2="380.40" stroke="#e0e0e0" stroke-width="1.05"/>
<line x1="175.49" y1="233.50" x2="175.49" y2="380.40" stroke="#e0e0e0" stroke-width="1.05"/>
<line x1="53.00" y1="353.80" x2="230.80" y2="353.80" stroke="#e0e0e0" stroke-width="1.05"/>
<line x1="53.00" y1="328.30" x2="230.80" y2="328.30" stroke="#e0e0e0" stroke-width="1.05"/>
<line x1="53.00" y1="302.80" x2="230.80" y2="302.80" stroke="#e0e0e0" stroke-width="1.05"/>
<line x1="53.00" y1="277.30" x2="230.80" y2="277.30" stroke="#e0e0e0" stroke-width="1.05"/>
<line x1="53.00" y1="251.80" x2="230.80" y2="251.80" stroke="#e0e0e0" stroke-width="1.05"/>
<path d="M52.7,369.1 L110.9,369.1 L111.2,330" fill="none" stroke="#111" stroke-width="1.1" clip-path="url(#c01)" stroke-linejoin="round" />
<path d="M111.20,330.00 C111.27,328.33 111.38,326.20 111.60,320.00 C111.82,313.80 112.23,298.97 112.50,292.80 C112.77,286.63 112.95,285.52 113.20,283.00 C113.45,280.48 113.70,279.53 114.00,277.70 C114.30,275.87 114.63,273.62 115.00,272.00 C115.37,270.38 115.77,269.12 116.20,268.00 C116.63,266.88 117.07,266.03 117.60,265.30 C118.13,264.57 118.70,264.08 119.40,263.60 C120.10,263.12 120.90,262.73 121.80,262.40 C122.70,262.07 123.60,261.85 124.80,261.60 C126.00,261.35 127.37,261.18 129.00,260.90 C130.63,260.62 132.60,260.33 134.60,259.90 C136.60,259.47 138.85,258.93 141.00,258.30 C143.15,257.67 145.33,256.90 147.50,256.10 C149.67,255.30 151.83,254.40 154.00,253.50 C156.17,252.60 158.50,251.55 160.50,250.70 C162.50,249.85 164.20,249.12 166.00,248.40 C167.80,247.68 169.72,246.93 171.30,246.40 C172.88,245.87 174.13,245.53 175.50,245.20 C176.87,244.87 177.92,244.35 179.50,244.40 C181.08,244.45 183.13,244.82 185.00,245.50 C186.87,246.18 188.87,247.32 190.70,248.50 C192.53,249.68 194.20,250.98 196.00,252.60 C197.80,254.22 199.67,256.05 201.50,258.20 C203.33,260.35 205.20,262.80 207.00,265.50 C208.80,268.20 210.63,271.15 212.30,274.40 C213.97,277.65 215.55,281.22 217.00,285.00 C218.45,288.78 219.75,293.27 221.00,297.10 C222.25,300.93 223.42,304.57 224.50,308.00 C225.58,311.43 226.50,313.62 227.50,317.70 C228.50,321.78 230.00,330.03 230.50,332.50" fill="none" stroke="#111" stroke-width="1.1" clip-path="url(#c01)" stroke-linejoin="round" />
<path d="M53.00,316.60 C60.83,316.60 83.83,316.58 100.00,316.60 C116.17,316.62 140.33,316.55 150.00,316.70 C159.67,316.85 155.50,317.18 158.00,317.50 C160.50,317.82 162.67,318.18 165.00,318.60 C167.33,319.02 169.68,319.45 172.00,320.00 C174.32,320.55 176.90,321.23 178.90,321.90 C180.90,322.57 182.33,323.15 184.00,324.00 C185.67,324.85 187.40,325.83 188.90,327.00 C190.40,328.17 191.55,329.50 193.00,331.00 C194.45,332.50 196.27,334.33 197.60,336.00 C198.93,337.67 199.93,339.28 201.00,341.00 C202.07,342.72 203.00,344.72 204.00,346.30 C205.00,347.88 206.00,349.02 207.00,350.50 C208.00,351.98 209.00,353.28 210.00,355.20 C211.00,357.12 212.08,360.03 213.00,362.00 C213.92,363.97 214.70,365.42 215.50,367.00 C216.30,368.58 217.42,370.75 217.80,371.50" fill="none" stroke="#111" stroke-width="1.1" stroke-dasharray="11.2 6.8" clip-path="url(#c01)" stroke-linejoin="round" />
<line x1="53.00" y1="380.40" x2="53.00" y2="377.80" stroke="#1a1a1a" stroke-width="1.1"/>
<line x1="71.44" y1="380.40" x2="71.44" y2="378.50" stroke="#1a1a1a" stroke-width="1"/>
<line x1="82.22" y1="380.40" x2="82.22" y2="378.50" stroke="#1a1a1a" stroke-width="1"/>
<line x1="89.87" y1="380.40" x2="89.87" y2="378.50" stroke="#1a1a1a" stroke-width="1"/>
<line x1="95.81" y1="380.40" x2="95.81" y2="378.50" stroke="#1a1a1a" stroke-width="1"/>
<line x1="100.66" y1="380.40" x2="100.66" y2="378.50" stroke="#1a1a1a" stroke-width="1"/>
<line x1="104.76" y1="380.40" x2="104.76" y2="378.50" stroke="#1a1a1a" stroke-width="1"/>
<line x1="108.31" y1="380.40" x2="108.31" y2="378.50" stroke="#1a1a1a" stroke-width="1"/>
<line x1="111.44" y1="380.40" x2="111.44" y2="378.50" stroke="#1a1a1a" stroke-width="1"/>
<line x1="114.25" y1="380.40" x2="114.25" y2="377.80" stroke="#1a1a1a" stroke-width="1.1"/>
<line x1="132.68" y1="380.40" x2="132.68" y2="378.50" stroke="#1a1a1a" stroke-width="1"/>
<line x1="143.47" y1="380.40" x2="143.47" y2="378.50" stroke="#1a1a1a" stroke-width="1"/>
<line x1="151.12" y1="380.40" x2="151.12" y2="378.50" stroke="#1a1a1a" stroke-width="1"/>
<line x1="157.05" y1="380.40" x2="157.05" y2="378.50" stroke="#1a1a1a" stroke-width="1"/>
<line x1="161.90" y1="380.40" x2="161.90" y2="378.50" stroke="#1a1a1a" stroke-width="1"/>
<line x1="166.00" y1="380.40" x2="166.00" y2="378.50" stroke="#1a1a1a" stroke-width="1"/>
<line x1="169.55" y1="380.40" x2="169.55" y2="378.50" stroke="#1a1a1a" stroke-width="1"/>
<line x1="172.69" y1="380.40" x2="172.69" y2="378.50" stroke="#1a1a1a" stroke-width="1"/>
<line x1="175.49" y1="380.40" x2="175.49" y2="377.80" stroke="#1a1a1a" stroke-width="1.1"/>
<line x1="193.93" y1="380.40" x2="193.93" y2="378.50" stroke="#1a1a1a" stroke-width="1"/>
<line x1="204.71" y1="380.40" x2="204.71" y2="378.50" stroke="#1a1a1a" stroke-width="1"/>
<line x1="212.36" y1="380.40" x2="212.36" y2="378.50" stroke="#1a1a1a" stroke-width="1"/>
<line x1="218.30" y1="380.40" x2="218.30" y2="378.50" stroke="#1a1a1a" stroke-width="1"/>
<line x1="223.15" y1="380.40" x2="223.15" y2="378.50" stroke="#1a1a1a" stroke-width="1"/>
<line x1="227.25" y1="380.40" x2="227.25" y2="378.50" stroke="#1a1a1a" stroke-width="1"/>
<line x1="230.80" y1="380.40" x2="230.80" y2="378.50" stroke="#1a1a1a" stroke-width="1"/>
<line x1="53.00" y1="353.80" x2="55.20" y2="353.80" stroke="#1a1a1a" stroke-width="1"/>
<line x1="53.00" y1="328.30" x2="55.20" y2="328.30" stroke="#1a1a1a" stroke-width="1"/>
<line x1="53.00" y1="302.80" x2="55.20" y2="302.80" stroke="#1a1a1a" stroke-width="1"/>
<line x1="53.00" y1="277.30" x2="55.20" y2="277.30" stroke="#1a1a1a" stroke-width="1"/>
<line x1="53.00" y1="251.80" x2="55.20" y2="251.80" stroke="#1a1a1a" stroke-width="1"/>
<line x1="53.00" y1="371.62" x2="54.40" y2="371.62" stroke="#1a1a1a" stroke-width="0.7"/>
<line x1="53.00" y1="367.13" x2="54.40" y2="367.13" stroke="#1a1a1a" stroke-width="0.7"/>
<line x1="53.00" y1="363.95" x2="54.40" y2="363.95" stroke="#1a1a1a" stroke-width="0.7"/>
<line x1="53.00" y1="361.48" x2="54.40" y2="361.48" stroke="#1a1a1a" stroke-width="0.7"/>
<line x1="53.00" y1="359.46" x2="54.40" y2="359.46" stroke="#1a1a1a" stroke-width="0.7"/>
<line x1="53.00" y1="357.75" x2="54.40" y2="357.75" stroke="#1a1a1a" stroke-width="0.7"/>
<line x1="53.00" y1="356.27" x2="54.40" y2="356.27" stroke="#1a1a1a" stroke-width="0.7"/>
<line x1="53.00" y1="354.97" x2="54.40" y2="354.97" stroke="#1a1a1a" stroke-width="0.7"/>
<line x1="53.00" y1="346.12" x2="54.40" y2="346.12" stroke="#1a1a1a" stroke-width="0.7"/>
<line x1="53.00" y1="341.63" x2="54.40" y2="341.63" stroke="#1a1a1a" stroke-width="0.7"/>
<line x1="53.00" y1="338.45" x2="54.40" y2="338.45" stroke="#1a1a1a" stroke-width="0.7"/>
<line x1="53.00" y1="335.98" x2="54.40" y2="335.98" stroke="#1a1a1a" stroke-width="0.7"/>
<line x1="53.00" y1="333.96" x2="54.40" y2="333.96" stroke="#1a1a1a" stroke-width="0.7"/>
<line x1="53.00" y1="332.25" x2="54.40" y2="332.25" stroke="#1a1a1a" stroke-width="0.7"/>
<line x1="53.00" y1="330.77" x2="54.40" y2="330.77" stroke="#1a1a1a" stroke-width="0.7"/>
<line x1="53.00" y1="329.47" x2="54.40" y2="329.47" stroke="#1a1a1a" stroke-width="0.7"/>
<line x1="53.00" y1="320.62" x2="54.40" y2="320.62" stroke="#1a1a1a" stroke-width="0.7"/>
<line x1="53.00" y1="316.13" x2="54.40" y2="316.13" stroke="#1a1a1a" stroke-width="0.7"/>
<line x1="53.00" y1="312.95" x2="54.40" y2="312.95" stroke="#1a1a1a" stroke-width="0.7"/>
<line x1="53.00" y1="310.48" x2="54.40" y2="310.48" stroke="#1a1a1a" stroke-width="0.7"/>
<line x1="53.00" y1="308.46" x2="54.40" y2="308.46" stroke="#1a1a1a" stroke-width="0.7"/>
<line x1="53.00" y1="306.75" x2="54.40" y2="306.75" stroke="#1a1a1a" stroke-width="0.7"/>
<line x1="53.00" y1="305.27" x2="54.40" y2="305.27" stroke="#1a1a1a" stroke-width="0.7"/>
<line x1="53.00" y1="303.97" x2="54.40" y2="303.97" stroke="#1a1a1a" stroke-width="0.7"/>
<line x1="53.00" y1="295.12" x2="54.40" y2="295.12" stroke="#1a1a1a" stroke-width="0.7"/>
<line x1="53.00" y1="290.63" x2="54.40" y2="290.63" stroke="#1a1a1a" stroke-width="0.7"/>
<line x1="53.00" y1="287.45" x2="54.40" y2="287.45" stroke="#1a1a1a" stroke-width="0.7"/>
<line x1="53.00" y1="284.98" x2="54.40" y2="284.98" stroke="#1a1a1a" stroke-width="0.7"/>
<line x1="53.00" y1="282.96" x2="54.40" y2="282.96" stroke="#1a1a1a" stroke-width="0.7"/>
<line x1="53.00" y1="281.25" x2="54.40" y2="281.25" stroke="#1a1a1a" stroke-width="0.7"/>
<line x1="53.00" y1="279.77" x2="54.40" y2="279.77" stroke="#1a1a1a" stroke-width="0.7"/>
<line x1="53.00" y1="278.47" x2="54.40" y2="278.47" stroke="#1a1a1a" stroke-width="0.7"/>
<line x1="53.00" y1="269.62" x2="54.40" y2="269.62" stroke="#1a1a1a" stroke-width="0.7"/>
<line x1="53.00" y1="265.13" x2="54.40" y2="265.13" stroke="#1a1a1a" stroke-width="0.7"/>
<line x1="53.00" y1="261.95" x2="54.40" y2="261.95" stroke="#1a1a1a" stroke-width="0.7"/>
<line x1="53.00" y1="259.48" x2="54.40" y2="259.48" stroke="#1a1a1a" stroke-width="0.7"/>
<line x1="53.00" y1="257.46" x2="54.40" y2="257.46" stroke="#1a1a1a" stroke-width="0.7"/>
<line x1="53.00" y1="255.75" x2="54.40" y2="255.75" stroke="#1a1a1a" stroke-width="0.7"/>
<line x1="53.00" y1="254.27" x2="54.40" y2="254.27" stroke="#1a1a1a" stroke-width="0.7"/>
<line x1="53.00" y1="252.97" x2="54.40" y2="252.97" stroke="#1a1a1a" stroke-width="0.7"/>
<line x1="53.00" y1="244.12" x2="54.40" y2="244.12" stroke="#1a1a1a" stroke-width="0.7"/>
<line x1="53.00" y1="239.63" x2="54.40" y2="239.63" stroke="#1a1a1a" stroke-width="0.7"/>
<line x1="53.00" y1="236.45" x2="54.40" y2="236.45" stroke="#1a1a1a" stroke-width="0.7"/>
<line x1="53.00" y1="233.98" x2="54.40" y2="233.98" stroke="#1a1a1a" stroke-width="0.7"/>
<path d="M53.00,233.00 L53.00,380.40 L231.30,380.40" fill="none" stroke="#1a1a1a" stroke-width="1.15"/>
<text x="40.10" y="404.80" font-size="15" font-family="Liberation Serif, serif">10<tspan dy="-6.7" dx="0.2" font-size="12">-2</tspan></text>
<text x="100.55" y="404.80" font-size="15" font-family="Liberation Serif, serif">10<tspan dy="-6.7" dx="0.2" font-size="12">-1</tspan></text>
<text x="164.39" y="404.80" font-size="15" font-family="Liberation Serif, serif">10<tspan dy="-6.7" dx="0.2" font-size="12">0</tspan></text>
<text x="21.20" y="361.40" font-size="15" font-family="Liberation Serif, serif">10<tspan dy="-6.7" dx="0.2" font-size="12">-1</tspan></text>
<text x="25.20" y="335.90" font-size="15" font-family="Liberation Serif, serif">10<tspan dy="-6.7" dx="0.2" font-size="12">0</tspan></text>
<text x="25.20" y="310.40" font-size="15" font-family="Liberation Serif, serif">10<tspan dy="-6.7" dx="0.2" font-size="12">1</tspan></text>
<text x="25.20" y="284.90" font-size="15" font-family="Liberation Serif, serif">10<tspan dy="-6.7" dx="0.2" font-size="12">2</tspan></text>
<text x="25.20" y="259.40" font-size="15" font-family="Liberation Serif, serif">10<tspan dy="-6.7" dx="0.2" font-size="12">3</tspan></text>
<text x="115.49" y="422.40" font-size="14.82" textLength="32.90" lengthAdjust="spacingAndGlyphs"  font-family="Liberation Serif, serif">Time</text>
<text x="153.78" y="422.40" font-size="14.82" textLength="13.44" lengthAdjust="spacingAndGlyphs"  font-family="Liberation Serif, serif">[s]</text>
<g transform="translate(12.90,307.20) rotate(-90)"><text x="-36.48" y="0" font-size="14.82" textLength="48.81" lengthAdjust="spacingAndGlyphs"  font-family="Liberation Serif, serif">Voltage</text><text x="17.72" y="0" font-size="14.82" textLength="18.66" lengthAdjust="spacingAndGlyphs"  font-family="Liberation Serif, serif">[V]</text></g>
<text x="5.80" y="222.40" font-size="14.3" stroke="#111" stroke-width="0.15" font-family="Liberation Serif, serif">d)</text>
<circle cx="179.50" cy="244.40" r="3.4" fill="#111"/>
<text x="189.70" y="242.70" font-size="12.50" textLength="14.84" lengthAdjust="spacingAndGlyphs" stroke="#111" stroke-width="0.15" font-family="Liberation Serif, serif">2.0</text>
<text x="209.03" y="242.70" font-size="12.50" textLength="14.84" lengthAdjust="spacingAndGlyphs" stroke="#111" stroke-width="0.15" font-family="Liberation Serif, serif">kV</text>
<rect x="85.50" y="328.60" width="112.00" height="39.40" fill="#fff" stroke="#1c1c1c" stroke-width="1.3"/>
<line x1="89.90" y1="339.00" x2="135.60" y2="339.00" stroke="#222" stroke-width="1.1"/>
<text x="139.00" y="341.90" font-size="13.8" font-style="italic" textLength="10.2" lengthAdjust="spacingAndGlyphs" stroke="#111" stroke-width="0.15" font-family="Liberation Serif, serif">V</text>
<text x="146.90" y="346.70" font-size="13.06" textLength="44.73" lengthAdjust="spacingAndGlyphs" stroke="#111" stroke-width="0.15" font-family="Liberation Serif, serif">internal</text>
<line x1="89.90" y1="356.75" x2="135.60" y2="356.75" stroke="#222" stroke-width="1.1" stroke-dasharray="11.2 6.8"/>
<text x="139.00" y="358.80" font-size="13.8" font-style="italic" textLength="10.2" lengthAdjust="spacingAndGlyphs" stroke="#111" stroke-width="0.15" font-family="Liberation Serif, serif">V</text>
<text x="146.90" y="363.50" font-size="13.06" textLength="32.84" lengthAdjust="spacingAndGlyphs" stroke="#111" stroke-width="0.15" font-family="Liberation Serif, serif">dump</text>
<clipPath id="c11"><rect x="287.60" y="232.50" width="178.40" height="148.40"/></clipPath>
<line x1="306.04" y1="234.90" x2="306.04" y2="380.40" stroke="#aaaaaa" stroke-width="1" stroke-dasharray="1.1 3.4"/>
<line x1="316.82" y1="234.90" x2="316.82" y2="380.40" stroke="#aaaaaa" stroke-width="1" stroke-dasharray="1.1 3.4"/>
<line x1="324.47" y1="234.90" x2="324.47" y2="380.40" stroke="#aaaaaa" stroke-width="1" stroke-dasharray="1.1 3.4"/>
<line x1="330.41" y1="234.90" x2="330.41" y2="380.40" stroke="#aaaaaa" stroke-width="1" stroke-dasharray="1.1 3.4"/>
<line x1="335.26" y1="234.90" x2="335.26" y2="380.40" stroke="#aaaaaa" stroke-width="1" stroke-dasharray="1.1 3.4"/>
<line x1="339.36" y1="234.90" x2="339.36" y2="380.40" stroke="#aaaaaa" stroke-width="1" stroke-dasharray="1.1 3.4"/>
<line x1="342.91" y1="234.90" x2="342.91" y2="380.40" stroke="#aaaaaa" stroke-width="1" stroke-dasharray="1.1 3.4"/>
<line x1="346.04" y1="234.90" x2="346.04" y2="380.40" stroke="#aaaaaa" stroke-width="1" stroke-dasharray="1.1 3.4"/>
<line x1="367.28" y1="234.90" x2="367.28" y2="380.40" stroke="#aaaaaa" stroke-width="1" stroke-dasharray="1.1 3.4"/>
<line x1="378.07" y1="234.90" x2="378.07" y2="380.40" stroke="#aaaaaa" stroke-width="1" stroke-dasharray="1.1 3.4"/>
<line x1="385.72" y1="234.90" x2="385.72" y2="380.40" stroke="#aaaaaa" stroke-width="1" stroke-dasharray="1.1 3.4"/>
<line x1="391.65" y1="234.90" x2="391.65" y2="380.40" stroke="#aaaaaa" stroke-width="1" stroke-dasharray="1.1 3.4"/>
<line x1="396.50" y1="234.90" x2="396.50" y2="380.40" stroke="#aaaaaa" stroke-width="1" stroke-dasharray="1.1 3.4"/>
<line x1="400.60" y1="234.90" x2="400.60" y2="380.40" stroke="#aaaaaa" stroke-width="1" stroke-dasharray="1.1 3.4"/>
<line x1="404.15" y1="234.90" x2="404.15" y2="380.40" stroke="#aaaaaa" stroke-width="1" stroke-dasharray="1.1 3.4"/>
<line x1="407.29" y1="234.90" x2="407.29" y2="380.40" stroke="#aaaaaa" stroke-width="1" stroke-dasharray="1.1 3.4"/>
<line x1="428.53" y1="234.90" x2="428.53" y2="380.40" stroke="#aaaaaa" stroke-width="1" stroke-dasharray="1.1 3.4"/>
<line x1="439.31" y1="234.90" x2="439.31" y2="380.40" stroke="#aaaaaa" stroke-width="1" stroke-dasharray="1.1 3.4"/>
<line x1="446.96" y1="234.90" x2="446.96" y2="380.40" stroke="#aaaaaa" stroke-width="1" stroke-dasharray="1.1 3.4"/>
<line x1="452.90" y1="234.90" x2="452.90" y2="380.40" stroke="#aaaaaa" stroke-width="1" stroke-dasharray="1.1 3.4"/>
<line x1="457.75" y1="234.90" x2="457.75" y2="380.40" stroke="#aaaaaa" stroke-width="1" stroke-dasharray="1.1 3.4"/>
<line x1="461.85" y1="234.90" x2="461.85" y2="380.40" stroke="#aaaaaa" stroke-width="1" stroke-dasharray="1.1 3.4"/>
<line x1="465.40" y1="234.90" x2="465.40" y2="380.40" stroke="#aaaaaa" stroke-width="1" stroke-dasharray="1.1 3.4"/>
<line x1="348.85" y1="233.50" x2="348.85" y2="380.40" stroke="#e0e0e0" stroke-width="1.05"/>
<line x1="410.09" y1="233.50" x2="410.09" y2="380.40" stroke="#e0e0e0" stroke-width="1.05"/>
<line x1="287.60" y1="331.43" x2="465.40" y2="331.43" stroke="#e0e0e0" stroke-width="1.05"/>
<line x1="287.60" y1="282.47" x2="465.40" y2="282.47" stroke="#e0e0e0" stroke-width="1.05"/>
<line x1="287.60" y1="233.50" x2="465.40" y2="233.50" stroke="#e0e0e0" stroke-width="1.05"/>
<path d="M287.6,358.2 L346.2,358.2" fill="none" stroke="#111" stroke-width="1.1" clip-path="url(#c11)" stroke-linejoin="round" />
<path d="M346.20,358.20 C346.23,353.50 346.32,338.87 346.40,330.00 C346.48,321.13 346.60,312.50 346.70,305.00 C346.80,297.50 346.80,290.67 347.00,285.00 C347.20,279.33 347.45,274.92 347.90,271.00 C348.35,267.08 348.88,264.13 349.70,261.50 C350.52,258.87 351.58,256.83 352.80,255.20 C354.02,253.57 355.47,252.48 357.00,251.70 C358.53,250.92 359.83,250.95 362.00,250.50 C364.17,250.05 366.67,249.83 370.00,249.00 C373.33,248.17 378.00,246.67 382.00,245.50 C386.00,244.33 390.33,242.95 394.00,242.00 C397.67,241.05 401.40,240.28 404.00,239.80 C406.60,239.32 407.93,239.07 409.60,239.10 C411.27,239.13 412.60,239.52 414.00,240.00 C415.40,240.48 416.67,241.08 418.00,242.00 C419.33,242.92 420.67,244.17 422.00,245.50 C423.33,246.83 424.67,248.25 426.00,250.00 C427.33,251.75 428.67,253.83 430.00,256.00 C431.33,258.17 432.83,260.75 434.00,263.00 C435.17,265.25 436.00,267.17 437.00,269.50 C438.00,271.83 439.08,274.50 440.00,277.00 C440.92,279.50 441.67,281.83 442.50,284.50 C443.33,287.17 444.08,288.75 445.00,293.00 C445.92,297.25 447.00,304.50 448.00,310.00 C449.00,315.50 450.00,320.50 451.00,326.00 C452.00,331.50 453.00,337.33 454.00,343.00 C455.00,348.67 456.08,354.83 457.00,360.00 C457.92,365.17 458.87,370.33 459.50,374.00 C460.13,377.67 460.58,380.67 460.80,382.00" fill="none" stroke="#111" stroke-width="1.1" clip-path="url(#c11)" stroke-linejoin="round" />
<path d="M287.60,307.70 C294.67,307.70 316.27,307.70 330.00,307.70 C343.73,307.70 362.00,307.67 370.00,307.70 C378.00,307.73 375.67,307.77 378.00,307.90 C380.33,308.03 382.17,308.25 384.00,308.50 C385.83,308.75 387.17,308.98 389.00,309.40 C390.83,309.82 392.67,310.35 395.00,311.00 C397.33,311.65 400.50,312.53 403.00,313.30 C405.50,314.07 408.10,314.95 410.00,315.60 C411.90,316.25 413.07,316.38 414.40,317.20 C415.73,318.02 416.73,319.12 418.00,320.50 C419.27,321.88 420.67,323.50 422.00,325.50 C423.33,327.50 424.57,329.68 426.00,332.50 C427.43,335.32 429.12,339.12 430.60,342.40 C432.08,345.68 433.58,348.93 434.90,352.20 C436.22,355.47 437.25,358.48 438.50,362.00 C439.75,365.52 441.57,370.80 442.40,373.30 C443.23,375.80 443.32,376.38 443.50,377.00" fill="none" stroke="#111" stroke-width="1.1" stroke-dasharray="11.2 6.8" clip-path="url(#c11)" stroke-linejoin="round" />
<path d="M356.30,381.00 L356.40,380.60 L356.52,380.10 L356.66,379.53 L356.82,378.89 L356.99,378.19 L357.18,377.44 L357.38,376.65 L357.59,375.83 L357.81,375.00 L358.03,374.16 L358.26,373.32 L358.50,372.50 L358.60,372.16 M393.10,310.80 L393.53,310.07 L393.95,309.36 L394.36,308.65 L394.76,307.97 L395.15,307.30 L395.53,306.64 L395.89,306.01 L396.24,305.40 L396.57,304.81 L396.90,304.25 L397.21,303.71 L397.30,303.55 M399.00,300.63 L399.19,300.31 L399.41,299.91 L399.68,299.45 L400.00,298.90 L400.37,298.25 L400.80,297.52 L401.26,296.71 L401.76,295.84 L402.27,294.94 L402.81,294.01 L403.34,293.08 L403.88,292.14 L404.40,291.24 L404.90,290.37 L405.37,289.55 L405.60,289.15 M407.20,286.38 L407.31,286.18 L407.66,285.58 L407.99,285.01 L408.32,284.45 L408.63,283.91 L408.93,283.39 L409.23,282.88 L409.52,282.38 L409.80,281.90 L410.00,281.56 " fill="none" stroke="#111" stroke-width="1.1" clip-path="url(#c11)" stroke-linejoin="round" />
<path d="M414.40,273.90 C415.07,274.20 416.98,274.83 418.40,275.70 C419.82,276.57 421.63,278.00 422.90,279.10 C424.17,280.20 424.82,280.93 426.00,282.30 C427.18,283.67 428.83,285.85 430.00,287.30 C431.17,288.75 431.83,289.48 433.00,291.00 C434.17,292.52 435.83,294.65 437.00,296.40 C438.17,298.15 438.83,299.40 440.00,301.50 C441.17,303.60 442.67,306.33 444.00,309.00 C445.33,311.67 446.67,314.58 448.00,317.50 C449.33,320.42 450.83,323.83 452.00,326.50 C453.17,329.17 454.00,331.00 455.00,333.50 C456.00,336.00 457.00,338.67 458.00,341.50 C459.00,344.33 460.03,347.42 461.00,350.50 C461.97,353.58 462.97,357.08 463.80,360.00 C464.63,362.92 465.63,366.67 466.00,368.00" fill="none" stroke="#111" stroke-width="1.1" stroke-dasharray="10 4.5 7 3.2 1.4 3.9 8.7 3.8 1.4 3.8 8.7 3.8 1.4 3.8 8.7 3.8 1.4 3.8 8.7 3.8 1.4 3.8 8.7 3.8 1.4 3.8 8.7 3.8 1.4 3.8 " clip-path="url(#c11)" stroke-linejoin="round" />
<line x1="287.60" y1="380.40" x2="287.60" y2="377.80" stroke="#1a1a1a" stroke-width="1.1"/>
<line x1="306.04" y1="380.40" x2="306.04" y2="378.50" stroke="#1a1a1a" stroke-width="1"/>
<line x1="316.82" y1="380.40" x2="316.82" y2="378.50" stroke="#1a1a1a" stroke-width="1"/>
<line x1="324.47" y1="380.40" x2="324.47" y2="378.50" stroke="#1a1a1a" stroke-width="1"/>
<line x1="330.41" y1="380.40" x2="330.41" y2="378.50" stroke="#1a1a1a" stroke-width="1"/>
<line x1="335.26" y1="380.40" x2="335.26" y2="378.50" stroke="#1a1a1a" stroke-width="1"/>
<line x1="339.36" y1="380.40" x2="339.36" y2="378.50" stroke="#1a1a1a" stroke-width="1"/>
<line x1="342.91" y1="380.40" x2="342.91" y2="378.50" stroke="#1a1a1a" stroke-width="1"/>
<line x1="346.04" y1="380.40" x2="346.04" y2="378.50" stroke="#1a1a1a" stroke-width="1"/>
<line x1="348.85" y1="380.40" x2="348.85" y2="377.80" stroke="#1a1a1a" stroke-width="1.1"/>
<line x1="367.28" y1="380.40" x2="367.28" y2="378.50" stroke="#1a1a1a" stroke-width="1"/>
<line x1="378.07" y1="380.40" x2="378.07" y2="378.50" stroke="#1a1a1a" stroke-width="1"/>
<line x1="385.72" y1="380.40" x2="385.72" y2="378.50" stroke="#1a1a1a" stroke-width="1"/>
<line x1="391.65" y1="380.40" x2="391.65" y2="378.50" stroke="#1a1a1a" stroke-width="1"/>
<line x1="396.50" y1="380.40" x2="396.50" y2="378.50" stroke="#1a1a1a" stroke-width="1"/>
<line x1="400.60" y1="380.40" x2="400.60" y2="378.50" stroke="#1a1a1a" stroke-width="1"/>
<line x1="404.15" y1="380.40" x2="404.15" y2="378.50" stroke="#1a1a1a" stroke-width="1"/>
<line x1="407.29" y1="380.40" x2="407.29" y2="378.50" stroke="#1a1a1a" stroke-width="1"/>
<line x1="410.09" y1="380.40" x2="410.09" y2="377.80" stroke="#1a1a1a" stroke-width="1.1"/>
<line x1="428.53" y1="380.40" x2="428.53" y2="378.50" stroke="#1a1a1a" stroke-width="1"/>
<line x1="439.31" y1="380.40" x2="439.31" y2="378.50" stroke="#1a1a1a" stroke-width="1"/>
<line x1="446.96" y1="380.40" x2="446.96" y2="378.50" stroke="#1a1a1a" stroke-width="1"/>
<line x1="452.90" y1="380.40" x2="452.90" y2="378.50" stroke="#1a1a1a" stroke-width="1"/>
<line x1="457.75" y1="380.40" x2="457.75" y2="378.50" stroke="#1a1a1a" stroke-width="1"/>
<line x1="461.85" y1="380.40" x2="461.85" y2="378.50" stroke="#1a1a1a" stroke-width="1"/>
<line x1="465.40" y1="380.40" x2="465.40" y2="378.50" stroke="#1a1a1a" stroke-width="1"/>
<line x1="287.60" y1="380.40" x2="289.80" y2="380.40" stroke="#1a1a1a" stroke-width="1"/>
<line x1="287.60" y1="331.43" x2="289.80" y2="331.43" stroke="#1a1a1a" stroke-width="1"/>
<line x1="287.60" y1="282.47" x2="289.80" y2="282.47" stroke="#1a1a1a" stroke-width="1"/>
<line x1="287.60" y1="233.50" x2="289.80" y2="233.50" stroke="#1a1a1a" stroke-width="1"/>
<line x1="287.60" y1="373.03" x2="289.00" y2="373.03" stroke="#1a1a1a" stroke-width="0.7"/>
<line x1="287.60" y1="368.72" x2="289.00" y2="368.72" stroke="#1a1a1a" stroke-width="0.7"/>
<line x1="287.60" y1="365.66" x2="289.00" y2="365.66" stroke="#1a1a1a" stroke-width="0.7"/>
<line x1="287.60" y1="363.29" x2="289.00" y2="363.29" stroke="#1a1a1a" stroke-width="0.7"/>
<line x1="287.60" y1="361.35" x2="289.00" y2="361.35" stroke="#1a1a1a" stroke-width="0.7"/>
<line x1="287.60" y1="359.71" x2="289.00" y2="359.71" stroke="#1a1a1a" stroke-width="0.7"/>
<line x1="287.60" y1="358.29" x2="289.00" y2="358.29" stroke="#1a1a1a" stroke-width="0.7"/>
<line x1="287.60" y1="357.04" x2="289.00" y2="357.04" stroke="#1a1a1a" stroke-width="0.7"/>
<line x1="287.60" y1="355.92" x2="289.00" y2="355.92" stroke="#1a1a1a" stroke-width="0.7"/>
<line x1="287.60" y1="348.55" x2="289.00" y2="348.55" stroke="#1a1a1a" stroke-width="0.7"/>
<line x1="287.60" y1="344.24" x2="289.00" y2="344.24" stroke="#1a1a1a" stroke-width="0.7"/>
<line x1="287.60" y1="341.18" x2="289.00" y2="341.18" stroke="#1a1a1a" stroke-width="0.7"/>
<line x1="287.60" y1="338.80" x2="289.00" y2="338.80" stroke="#1a1a1a" stroke-width="0.7"/>
<line x1="287.60" y1="336.86" x2="289.00" y2="336.86" stroke="#1a1a1a" stroke-width="0.7"/>
<line x1="287.60" y1="335.23" x2="289.00" y2="335.23" stroke="#1a1a1a" stroke-width="0.7"/>
<line x1="287.60" y1="333.81" x2="289.00" y2="333.81" stroke="#1a1a1a" stroke-width="0.7"/>
<line x1="287.60" y1="332.55" x2="289.00" y2="332.55" stroke="#1a1a1a" stroke-width="0.7"/>
<line x1="287.60" y1="324.06" x2="289.00" y2="324.06" stroke="#1a1a1a" stroke-width="0.7"/>
<line x1="287.60" y1="319.75" x2="289.00" y2="319.75" stroke="#1a1a1a" stroke-width="0.7"/>
<line x1="287.60" y1="316.69" x2="289.00" y2="316.69" stroke="#1a1a1a" stroke-width="0.7"/>
<line x1="287.60" y1="314.32" x2="289.00" y2="314.32" stroke="#1a1a1a" stroke-width="0.7"/>
<line x1="287.60" y1="312.38" x2="289.00" y2="312.38" stroke="#1a1a1a" stroke-width="0.7"/>
<line x1="287.60" y1="310.74" x2="289.00" y2="310.74" stroke="#1a1a1a" stroke-width="0.7"/>
<line x1="287.60" y1="309.32" x2="289.00" y2="309.32" stroke="#1a1a1a" stroke-width="0.7"/>
<line x1="287.60" y1="308.07" x2="289.00" y2="308.07" stroke="#1a1a1a" stroke-width="0.7"/>
<line x1="287.60" y1="306.95" x2="289.00" y2="306.95" stroke="#1a1a1a" stroke-width="0.7"/>
<line x1="287.60" y1="299.58" x2="289.00" y2="299.58" stroke="#1a1a1a" stroke-width="0.7"/>
<line x1="287.60" y1="295.27" x2="289.00" y2="295.27" stroke="#1a1a1a" stroke-width="0.7"/>
<line x1="287.60" y1="292.21" x2="289.00" y2="292.21" stroke="#1a1a1a" stroke-width="0.7"/>
<line x1="287.60" y1="289.84" x2="289.00" y2="289.84" stroke="#1a1a1a" stroke-width="0.7"/>
<line x1="287.60" y1="287.90" x2="289.00" y2="287.90" stroke="#1a1a1a" stroke-width="0.7"/>
<line x1="287.60" y1="286.26" x2="289.00" y2="286.26" stroke="#1a1a1a" stroke-width="0.7"/>
<line x1="287.60" y1="284.84" x2="289.00" y2="284.84" stroke="#1a1a1a" stroke-width="0.7"/>
<line x1="287.60" y1="283.59" x2="289.00" y2="283.59" stroke="#1a1a1a" stroke-width="0.7"/>
<line x1="287.60" y1="275.10" x2="289.00" y2="275.10" stroke="#1a1a1a" stroke-width="0.7"/>
<line x1="287.60" y1="270.79" x2="289.00" y2="270.79" stroke="#1a1a1a" stroke-width="0.7"/>
<line x1="287.60" y1="267.73" x2="289.00" y2="267.73" stroke="#1a1a1a" stroke-width="0.7"/>
<line x1="287.60" y1="265.35" x2="289.00" y2="265.35" stroke="#1a1a1a" stroke-width="0.7"/>
<line x1="287.60" y1="263.41" x2="289.00" y2="263.41" stroke="#1a1a1a" stroke-width="0.7"/>
<line x1="287.60" y1="261.78" x2="289.00" y2="261.78" stroke="#1a1a1a" stroke-width="0.7"/>
<line x1="287.60" y1="260.36" x2="289.00" y2="260.36" stroke="#1a1a1a" stroke-width="0.7"/>
<line x1="287.60" y1="259.10" x2="289.00" y2="259.10" stroke="#1a1a1a" stroke-width="0.7"/>
<line x1="287.60" y1="257.98" x2="289.00" y2="257.98" stroke="#1a1a1a" stroke-width="0.7"/>
<line x1="287.60" y1="250.61" x2="289.00" y2="250.61" stroke="#1a1a1a" stroke-width="0.7"/>
<line x1="287.60" y1="246.30" x2="289.00" y2="246.30" stroke="#1a1a1a" stroke-width="0.7"/>
<line x1="287.60" y1="243.24" x2="289.00" y2="243.24" stroke="#1a1a1a" stroke-width="0.7"/>
<line x1="287.60" y1="240.87" x2="289.00" y2="240.87" stroke="#1a1a1a" stroke-width="0.7"/>
<line x1="287.60" y1="238.93" x2="289.00" y2="238.93" stroke="#1a1a1a" stroke-width="0.7"/>
<line x1="287.60" y1="237.29" x2="289.00" y2="237.29" stroke="#1a1a1a" stroke-width="0.7"/>
<line x1="287.60" y1="235.87" x2="289.00" y2="235.87" stroke="#1a1a1a" stroke-width="0.7"/>
<line x1="287.60" y1="234.62" x2="289.00" y2="234.62" stroke="#1a1a1a" stroke-width="0.7"/>
<path d="M287.60,233.00 L287.60,380.40 L465.90,380.40" fill="none" stroke="#1a1a1a" stroke-width="1.15"/>
<text x="274.70" y="404.80" font-size="15" font-family="Liberation Serif, serif">10<tspan dy="-6.7" dx="0.2" font-size="12">-2</tspan></text>
<text x="335.15" y="404.80" font-size="15" font-family="Liberation Serif, serif">10<tspan dy="-6.7" dx="0.2" font-size="12">-1</tspan></text>
<text x="398.99" y="404.80" font-size="15" font-family="Liberation Serif, serif">10<tspan dy="-6.7" dx="0.2" font-size="12">0</tspan></text>
<text x="259.80" y="388.00" font-size="15" font-family="Liberation Serif, serif">10<tspan dy="-6.7" dx="0.2" font-size="12">0</tspan></text>
<text x="259.80" y="339.03" font-size="15" font-family="Liberation Serif, serif">10<tspan dy="-6.7" dx="0.2" font-size="12">2</tspan></text>
<text x="259.80" y="290.07" font-size="15" font-family="Liberation Serif, serif">10<tspan dy="-6.7" dx="0.2" font-size="12">4</tspan></text>
<text x="259.80" y="241.10" font-size="15" font-family="Liberation Serif, serif">10<tspan dy="-6.7" dx="0.2" font-size="12">6</tspan></text>
<text x="350.09" y="422.40" font-size="14.82" textLength="32.90" lengthAdjust="spacingAndGlyphs"  font-family="Liberation Serif, serif">Time</text>
<text x="388.38" y="422.40" font-size="14.82" textLength="13.44" lengthAdjust="spacingAndGlyphs"  font-family="Liberation Serif, serif">[s]</text>
<g transform="translate(250.00,307.30) rotate(-90)"><text x="-33.95" y="0" font-size="14.82" textLength="39.68" lengthAdjust="spacingAndGlyphs"  font-family="Liberation Serif, serif">Power</text><text x="11.11" y="0" font-size="14.82" textLength="22.74" lengthAdjust="spacingAndGlyphs"  font-family="Liberation Serif, serif">[W]</text></g>
<text x="266.00" y="222.40" font-size="14.3" stroke="#111" stroke-width="0.15" font-family="Liberation Serif, serif">e)</text>
<circle cx="409.60" cy="239.10" r="3.4" fill="#111"/>
<text x="417.00" y="242.70" font-size="12.50" textLength="17.50" lengthAdjust="spacingAndGlyphs" stroke="#111" stroke-width="0.15" font-family="Liberation Serif, serif">591</text>
<text x="439.00" y="242.70" font-size="12.50" textLength="18.17" lengthAdjust="spacingAndGlyphs" stroke="#111" stroke-width="0.15" font-family="Liberation Serif, serif">kW</text>
<circle cx="414.30" cy="273.70" r="3.4" fill="#111"/>
<text x="421.00" y="277.10" font-size="12.50" textLength="11.50" lengthAdjust="spacingAndGlyphs" stroke="#111" stroke-width="0.15" font-family="Liberation Serif, serif">23</text>
<text x="437.00" y="277.10" font-size="12.50" textLength="18.17" lengthAdjust="spacingAndGlyphs" stroke="#111" stroke-width="0.15" font-family="Liberation Serif, serif">kW</text>
<rect x="298.60" y="311.60" width="115.70" height="56.10" fill="#fff" stroke="#1c1c1c" stroke-width="1.3"/>
<line x1="303.30" y1="322.00" x2="347.50" y2="322.00" stroke="#222" stroke-width="1.1"/>
<text x="353.00" y="324.80" font-size="13.6" font-style="italic" textLength="9.9" lengthAdjust="spacingAndGlyphs" stroke="#111" stroke-width="0.15" font-family="Liberation Serif, serif">P</text>
<text x="360.90" y="329.30" font-size="13.06" textLength="44.73" lengthAdjust="spacingAndGlyphs" stroke="#111" stroke-width="0.15" font-family="Liberation Serif, serif">internal</text>
<line x1="303.30" y1="340.00" x2="347.50" y2="340.00" stroke="#222" stroke-width="1.1" stroke-dasharray="11.2 6.8"/>
<text x="353.00" y="342.60" font-size="13.6" font-style="italic" textLength="9.9" lengthAdjust="spacingAndGlyphs" stroke="#111" stroke-width="0.15" font-family="Liberation Serif, serif">P</text>
<text x="360.90" y="346.80" font-size="13.06" textLength="32.84" lengthAdjust="spacingAndGlyphs" stroke="#111" stroke-width="0.15" font-family="Liberation Serif, serif">dump</text>
<line x1="303.30" y1="358.00" x2="347.50" y2="358.00" stroke="#222" stroke-width="1.1" stroke-dasharray="9.1 3.9 1.5 3.9"/>
<text x="353.00" y="361.00" font-size="13.6" font-style="italic" textLength="9.9" lengthAdjust="spacingAndGlyphs" stroke="#111" stroke-width="0.15" font-family="Liberation Serif, serif">P</text>
<text x="360.90" y="365.60" font-size="13.06" textLength="17.28" lengthAdjust="spacingAndGlyphs" stroke="#111" stroke-width="0.15" font-family="Liberation Serif, serif">alu</text>
<text x="383.12" y="365.60" font-size="13.06" textLength="24.05" lengthAdjust="spacingAndGlyphs" stroke="#111" stroke-width="0.15" font-family="Liberation Serif, serif">bars</text>
<clipPath id="c21"><rect x="521.20" y="232.50" width="178.40" height="148.40"/></clipPath>
<line x1="539.64" y1="234.90" x2="539.64" y2="380.40" stroke="#aaaaaa" stroke-width="1" stroke-dasharray="1.1 3.4"/>
<line x1="550.42" y1="234.90" x2="550.42" y2="380.40" stroke="#aaaaaa" stroke-width="1" stroke-dasharray="1.1 3.4"/>
<line x1="558.07" y1="234.90" x2="558.07" y2="380.40" stroke="#aaaaaa" stroke-width="1" stroke-dasharray="1.1 3.4"/>
<line x1="564.01" y1="234.90" x2="564.01" y2="380.40" stroke="#aaaaaa" stroke-width="1" stroke-dasharray="1.1 3.4"/>
<line x1="568.86" y1="234.90" x2="568.86" y2="380.40" stroke="#aaaaaa" stroke-width="1" stroke-dasharray="1.1 3.4"/>
<line x1="572.96" y1="234.90" x2="572.96" y2="380.40" stroke="#aaaaaa" stroke-width="1" stroke-dasharray="1.1 3.4"/>
<line x1="576.51" y1="234.90" x2="576.51" y2="380.40" stroke="#aaaaaa" stroke-width="1" stroke-dasharray="1.1 3.4"/>
<line x1="579.64" y1="234.90" x2="579.64" y2="380.40" stroke="#aaaaaa" stroke-width="1" stroke-dasharray="1.1 3.4"/>
<line x1="600.88" y1="234.90" x2="600.88" y2="380.40" stroke="#aaaaaa" stroke-width="1" stroke-dasharray="1.1 3.4"/>
<line x1="611.67" y1="234.90" x2="611.67" y2="380.40" stroke="#aaaaaa" stroke-width="1" stroke-dasharray="1.1 3.4"/>
<line x1="619.32" y1="234.90" x2="619.32" y2="380.40" stroke="#aaaaaa" stroke-width="1" stroke-dasharray="1.1 3.4"/>
<line x1="625.25" y1="234.90" x2="625.25" y2="380.40" stroke="#aaaaaa" stroke-width="1" stroke-dasharray="1.1 3.4"/>
<line x1="630.10" y1="234.90" x2="630.10" y2="380.40" stroke="#aaaaaa" stroke-width="1" stroke-dasharray="1.1 3.4"/>
<line x1="634.20" y1="234.90" x2="634.20" y2="380.40" stroke="#aaaaaa" stroke-width="1" stroke-dasharray="1.1 3.4"/>
<line x1="637.75" y1="234.90" x2="637.75" y2="380.40" stroke="#aaaaaa" stroke-width="1" stroke-dasharray="1.1 3.4"/>
<line x1="640.89" y1="234.90" x2="640.89" y2="380.40" stroke="#aaaaaa" stroke-width="1" stroke-dasharray="1.1 3.4"/>
<line x1="662.13" y1="234.90" x2="662.13" y2="380.40" stroke="#aaaaaa" stroke-width="1" stroke-dasharray="1.1 3.4"/>
<line x1="672.91" y1="234.90" x2="672.91" y2="380.40" stroke="#aaaaaa" stroke-width="1" stroke-dasharray="1.1 3.4"/>
<line x1="680.56" y1="234.90" x2="680.56" y2="380.40" stroke="#aaaaaa" stroke-width="1" stroke-dasharray="1.1 3.4"/>
<line x1="686.50" y1="234.90" x2="686.50" y2="380.40" stroke="#aaaaaa" stroke-width="1" stroke-dasharray="1.1 3.4"/>
<line x1="691.35" y1="234.90" x2="691.35" y2="380.40" stroke="#aaaaaa" stroke-width="1" stroke-dasharray="1.1 3.4"/>
<line x1="695.45" y1="234.90" x2="695.45" y2="380.40" stroke="#aaaaaa" stroke-width="1" stroke-dasharray="1.1 3.4"/>
<line x1="699.00" y1="234.90" x2="699.00" y2="380.40" stroke="#aaaaaa" stroke-width="1" stroke-dasharray="1.1 3.4"/>
<line x1="582.45" y1="233.50" x2="582.45" y2="380.40" stroke="#e0e0e0" stroke-width="1.05"/>
<line x1="643.69" y1="233.50" x2="643.69" y2="380.40" stroke="#e0e0e0" stroke-width="1.05"/>
<line x1="521.20" y1="331.43" x2="699.00" y2="331.43" stroke="#e0e0e0" stroke-width="1.05"/>
<line x1="521.20" y1="282.47" x2="699.00" y2="282.47" stroke="#e0e0e0" stroke-width="1.05"/>
<line x1="521.20" y1="233.50" x2="699.00" y2="233.50" stroke="#e0e0e0" stroke-width="1.05"/>
<path d="M521.20,238.00 C534.33,238.00 584.37,237.98 600.00,238.00 C615.63,238.02 610.50,238.02 615.00,238.10 C619.50,238.18 623.50,238.27 627.00,238.50 C630.50,238.73 633.27,239.10 636.00,239.50 C638.73,239.90 641.15,240.28 643.40,240.90 C645.65,241.52 647.53,242.23 649.50,243.20 C651.47,244.17 653.45,245.48 655.20,246.70 C656.95,247.92 658.45,249.12 660.00,250.50 C661.55,251.88 663.00,253.33 664.50,255.00 C666.00,256.67 667.43,258.55 669.00,260.50 C670.57,262.45 672.48,264.73 673.90,266.70 C675.32,268.67 676.32,270.35 677.50,272.30 C678.68,274.25 679.83,276.20 681.00,278.40 C682.17,280.60 683.33,282.95 684.50,285.50 C685.67,288.05 686.92,291.03 688.00,293.70 C689.08,296.37 690.02,298.75 691.00,301.50 C691.98,304.25 693.02,307.28 693.90,310.20 C694.78,313.12 695.52,315.87 696.30,319.00 C697.08,322.13 697.90,325.83 698.60,329.00 C699.30,332.17 700.18,336.50 700.50,338.00" fill="none" stroke="#111" stroke-width="1.1" clip-path="url(#c21)" stroke-linejoin="round" />
<path d="M521.20,378.20 C522.08,377.78 524.75,376.52 526.50,375.70 C528.25,374.88 530.83,373.70 531.70,373.30 M537.5,369.8 L540,369.5 L548.6,369.6" fill="none" stroke="#111" stroke-width="1.1" clip-path="url(#c21)" stroke-linejoin="round" />
<path d="M587.00,330.00 C587.63,327.32 589.83,317.65 590.80,313.90 C591.77,310.15 592.07,309.43 592.80,307.50 C593.53,305.57 594.40,304.00 595.20,302.30 C596.00,300.60 596.80,298.70 597.60,297.30 C598.40,295.90 599.13,294.98 600.00,293.90 C600.87,292.82 601.87,291.72 602.80,290.80 C603.73,289.88 604.15,289.40 605.60,288.40 C607.05,287.40 609.50,286.07 611.50,284.80 C613.50,283.53 615.60,282.15 617.60,280.80 C619.60,279.45 621.55,278.07 623.50,276.70 C625.45,275.33 627.55,273.88 629.30,272.60 C631.05,271.32 632.43,270.18 634.00,269.00 C635.57,267.82 637.32,266.50 638.70,265.50 C640.08,264.50 641.12,263.65 642.30,263.00 C643.48,262.35 644.82,261.93 645.80,261.60 C646.78,261.27 647.42,261.12 648.20,261.00 C648.98,260.88 649.53,260.68 650.50,260.90 C651.47,261.12 652.70,261.77 654.00,262.30 C655.30,262.83 656.63,263.47 658.30,264.10 C659.97,264.73 662.05,265.38 664.00,266.10 C665.95,266.82 668.20,267.50 670.00,268.40 C671.80,269.30 673.30,270.40 674.80,271.50 C676.30,272.60 677.53,273.78 679.00,275.00 C680.47,276.22 681.97,277.33 683.60,278.80 C685.23,280.27 687.32,282.38 688.80,283.80 C690.28,285.22 691.22,286.08 692.50,287.30 C693.78,288.52 695.08,289.68 696.50,291.10 C697.92,292.52 700.25,295.02 701.00,295.80" fill="none" stroke="#111" stroke-width="1.1" stroke-dasharray="11.2 6.8" clip-path="url(#c21)" stroke-linejoin="round" stroke-dashoffset="17.09"/>
<path d="M521.20,372.60 C522.08,372.17 524.75,370.85 526.50,370.00 C528.25,369.15 530.83,367.92 531.70,367.50 M534,366.2 L535,365.6 M537.5,364.2 L541,363.7 L545.7,363.6 M548.8,363.6 L550.3,363.6" fill="none" stroke="#111" stroke-width="1.1" clip-path="url(#c21)" stroke-linejoin="round" />
<path d="M586.00,328.00 C586.70,325.65 589.30,317.23 590.20,313.90 C591.10,310.57 590.95,309.85 591.40,308.00 C591.85,306.15 592.27,304.72 592.90,302.80 C593.53,300.88 594.42,298.37 595.20,296.50 C595.98,294.63 596.83,292.97 597.60,291.60 C598.37,290.23 599.02,289.30 599.80,288.30 C600.58,287.30 600.93,286.67 602.30,285.60 C603.67,284.53 605.85,283.37 608.00,281.90 C610.15,280.43 613.03,278.32 615.20,276.80 C617.37,275.28 619.03,274.20 621.00,272.80 C622.97,271.40 625.00,269.80 627.00,268.40 C629.00,267.00 631.05,265.73 633.00,264.40 C634.95,263.07 637.28,261.37 638.70,260.40 C640.12,259.43 640.68,259.12 641.50,258.60 C642.32,258.08 643.25,257.52 643.60,257.30" fill="none" stroke="#111" stroke-width="1.1" stroke-dasharray="8.7 3.8 1.4 3.8" clip-path="url(#c21)" stroke-linejoin="round" stroke-dashoffset="14.23"/>
<path d="M643.60,257.30 C643.92,257.57 644.82,258.35 645.50,258.90 C646.18,259.45 646.87,260.03 647.70,260.60 C648.53,261.17 649.52,261.75 650.50,262.30 C651.48,262.85 652.50,263.30 653.60,263.90 C654.70,264.50 655.87,265.23 657.10,265.90 C658.33,266.57 659.72,267.22 661.00,267.90 C662.28,268.58 663.78,269.32 664.80,270.00 C665.82,270.68 666.03,271.03 667.10,272.00 C668.17,272.97 670.00,274.55 671.20,275.80 C672.40,277.05 673.32,278.20 674.30,279.50 C675.28,280.80 676.32,282.32 677.10,283.60 C677.88,284.88 678.38,285.97 679.00,287.20 C679.62,288.43 680.13,289.60 680.80,291.00 C681.47,292.40 682.37,294.17 683.00,295.60 C683.63,297.03 684.05,298.20 684.60,299.60 C685.15,301.00 685.75,302.43 686.30,304.00 C686.85,305.57 687.40,307.27 687.90,309.00 C688.40,310.73 688.92,312.65 689.30,314.40 C689.68,316.15 689.93,317.85 690.20,319.50 C690.47,321.15 690.70,322.72 690.90,324.30 C691.10,325.88 691.28,327.55 691.40,329.00 C691.52,330.45 691.53,331.50 691.60,333.00 C691.67,334.50 691.77,337.17 691.80,338.00" fill="none" stroke="#111" stroke-width="1.1" stroke-dasharray="12.3 4 8.7 3.8 1.4 3.8 8.7 3.8 1.4 3.8 8.7 3.8 1.4 3.8 8.7 3.8 1.4 3.8 8.7 3.8 1.4 3.8 8.7 3.8 1.4 3.8 8.7 3.8 1.4 3.8 8.7 3.8 1.4 3.8 " clip-path="url(#c21)" stroke-linejoin="round" />
<line x1="521.20" y1="380.40" x2="521.20" y2="377.80" stroke="#1a1a1a" stroke-width="1.1"/>
<line x1="539.64" y1="380.40" x2="539.64" y2="378.50" stroke="#1a1a1a" stroke-width="1"/>
<line x1="550.42" y1="380.40" x2="550.42" y2="378.50" stroke="#1a1a1a" stroke-width="1"/>
<line x1="558.07" y1="380.40" x2="558.07" y2="378.50" stroke="#1a1a1a" stroke-width="1"/>
<line x1="564.01" y1="380.40" x2="564.01" y2="378.50" stroke="#1a1a1a" stroke-width="1"/>
<line x1="568.86" y1="380.40" x2="568.86" y2="378.50" stroke="#1a1a1a" stroke-width="1"/>
<line x1="572.96" y1="380.40" x2="572.96" y2="378.50" stroke="#1a1a1a" stroke-width="1"/>
<line x1="576.51" y1="380.40" x2="576.51" y2="378.50" stroke="#1a1a1a" stroke-width="1"/>
<line x1="579.64" y1="380.40" x2="579.64" y2="378.50" stroke="#1a1a1a" stroke-width="1"/>
<line x1="582.45" y1="380.40" x2="582.45" y2="377.80" stroke="#1a1a1a" stroke-width="1.1"/>
<line x1="600.88" y1="380.40" x2="600.88" y2="378.50" stroke="#1a1a1a" stroke-width="1"/>
<line x1="611.67" y1="380.40" x2="611.67" y2="378.50" stroke="#1a1a1a" stroke-width="1"/>
<line x1="619.32" y1="380.40" x2="619.32" y2="378.50" stroke="#1a1a1a" stroke-width="1"/>
<line x1="625.25" y1="380.40" x2="625.25" y2="378.50" stroke="#1a1a1a" stroke-width="1"/>
<line x1="630.10" y1="380.40" x2="630.10" y2="378.50" stroke="#1a1a1a" stroke-width="1"/>
<line x1="634.20" y1="380.40" x2="634.20" y2="378.50" stroke="#1a1a1a" stroke-width="1"/>
<line x1="637.75" y1="380.40" x2="637.75" y2="378.50" stroke="#1a1a1a" stroke-width="1"/>
<line x1="640.89" y1="380.40" x2="640.89" y2="378.50" stroke="#1a1a1a" stroke-width="1"/>
<line x1="643.69" y1="380.40" x2="643.69" y2="377.80" stroke="#1a1a1a" stroke-width="1.1"/>
<line x1="662.13" y1="380.40" x2="662.13" y2="378.50" stroke="#1a1a1a" stroke-width="1"/>
<line x1="672.91" y1="380.40" x2="672.91" y2="378.50" stroke="#1a1a1a" stroke-width="1"/>
<line x1="680.56" y1="380.40" x2="680.56" y2="378.50" stroke="#1a1a1a" stroke-width="1"/>
<line x1="686.50" y1="380.40" x2="686.50" y2="378.50" stroke="#1a1a1a" stroke-width="1"/>
<line x1="691.35" y1="380.40" x2="691.35" y2="378.50" stroke="#1a1a1a" stroke-width="1"/>
<line x1="695.45" y1="380.40" x2="695.45" y2="378.50" stroke="#1a1a1a" stroke-width="1"/>
<line x1="699.00" y1="380.40" x2="699.00" y2="378.50" stroke="#1a1a1a" stroke-width="1"/>
<line x1="521.20" y1="380.40" x2="523.40" y2="380.40" stroke="#1a1a1a" stroke-width="1"/>
<line x1="521.20" y1="331.43" x2="523.40" y2="331.43" stroke="#1a1a1a" stroke-width="1"/>
<line x1="521.20" y1="282.47" x2="523.40" y2="282.47" stroke="#1a1a1a" stroke-width="1"/>
<line x1="521.20" y1="233.50" x2="523.40" y2="233.50" stroke="#1a1a1a" stroke-width="1"/>
<line x1="521.20" y1="373.03" x2="522.60" y2="373.03" stroke="#1a1a1a" stroke-width="0.7"/>
<line x1="521.20" y1="368.72" x2="522.60" y2="368.72" stroke="#1a1a1a" stroke-width="0.7"/>
<line x1="521.20" y1="365.66" x2="522.60" y2="365.66" stroke="#1a1a1a" stroke-width="0.7"/>
<line x1="521.20" y1="363.29" x2="522.60" y2="363.29" stroke="#1a1a1a" stroke-width="0.7"/>
<line x1="521.20" y1="361.35" x2="522.60" y2="361.35" stroke="#1a1a1a" stroke-width="0.7"/>
<line x1="521.20" y1="359.71" x2="522.60" y2="359.71" stroke="#1a1a1a" stroke-width="0.7"/>
<line x1="521.20" y1="358.29" x2="522.60" y2="358.29" stroke="#1a1a1a" stroke-width="0.7"/>
<line x1="521.20" y1="357.04" x2="522.60" y2="357.04" stroke="#1a1a1a" stroke-width="0.7"/>
<line x1="521.20" y1="355.92" x2="522.60" y2="355.92" stroke="#1a1a1a" stroke-width="0.7"/>
<line x1="521.20" y1="348.55" x2="522.60" y2="348.55" stroke="#1a1a1a" stroke-width="0.7"/>
<line x1="521.20" y1="344.24" x2="522.60" y2="344.24" stroke="#1a1a1a" stroke-width="0.7"/>
<line x1="521.20" y1="341.18" x2="522.60" y2="341.18" stroke="#1a1a1a" stroke-width="0.7"/>
<line x1="521.20" y1="338.80" x2="522.60" y2="338.80" stroke="#1a1a1a" stroke-width="0.7"/>
<line x1="521.20" y1="336.86" x2="522.60" y2="336.86" stroke="#1a1a1a" stroke-width="0.7"/>
<line x1="521.20" y1="335.23" x2="522.60" y2="335.23" stroke="#1a1a1a" stroke-width="0.7"/>
<line x1="521.20" y1="333.81" x2="522.60" y2="333.81" stroke="#1a1a1a" stroke-width="0.7"/>
<line x1="521.20" y1="332.55" x2="522.60" y2="332.55" stroke="#1a1a1a" stroke-width="0.7"/>
<line x1="521.20" y1="324.06" x2="522.60" y2="324.06" stroke="#1a1a1a" stroke-width="0.7"/>
<line x1="521.20" y1="319.75" x2="522.60" y2="319.75" stroke="#1a1a1a" stroke-width="0.7"/>
<line x1="521.20" y1="316.69" x2="522.60" y2="316.69" stroke="#1a1a1a" stroke-width="0.7"/>
<line x1="521.20" y1="314.32" x2="522.60" y2="314.32" stroke="#1a1a1a" stroke-width="0.7"/>
<line x1="521.20" y1="312.38" x2="522.60" y2="312.38" stroke="#1a1a1a" stroke-width="0.7"/>
<line x1="521.20" y1="310.74" x2="522.60" y2="310.74" stroke="#1a1a1a" stroke-width="0.7"/>
<line x1="521.20" y1="309.32" x2="522.60" y2="309.32" stroke="#1a1a1a" stroke-width="0.7"/>
<line x1="521.20" y1="308.07" x2="522.60" y2="308.07" stroke="#1a1a1a" stroke-width="0.7"/>
<line x1="521.20" y1="306.95" x2="522.60" y2="306.95" stroke="#1a1a1a" stroke-width="0.7"/>
<line x1="521.20" y1="299.58" x2="522.60" y2="299.58" stroke="#1a1a1a" stroke-width="0.7"/>
<line x1="521.20" y1="295.27" x2="522.60" y2="295.27" stroke="#1a1a1a" stroke-width="0.7"/>
<line x1="521.20" y1="292.21" x2="522.60" y2="292.21" stroke="#1a1a1a" stroke-width="0.7"/>
<line x1="521.20" y1="289.84" x2="522.60" y2="289.84" stroke="#1a1a1a" stroke-width="0.7"/>
<line x1="521.20" y1="287.90" x2="522.60" y2="287.90" stroke="#1a1a1a" stroke-width="0.7"/>
<line x1="521.20" y1="286.26" x2="522.60" y2="286.26" stroke="#1a1a1a" stroke-width="0.7"/>
<line x1="521.20" y1="284.84" x2="522.60" y2="284.84" stroke="#1a1a1a" stroke-width="0.7"/>
<line x1="521.20" y1="283.59" x2="522.60" y2="283.59" stroke="#1a1a1a" stroke-width="0.7"/>
<line x1="521.20" y1="275.10" x2="522.60" y2="275.10" stroke="#1a1a1a" stroke-width="0.7"/>
<line x1="521.20" y1="270.79" x2="522.60" y2="270.79" stroke="#1a1a1a" stroke-width="0.7"/>
<line x1="521.20" y1="267.73" x2="522.60" y2="267.73" stroke="#1a1a1a" stroke-width="0.7"/>
<line x1="521.20" y1="265.35" x2="522.60" y2="265.35" stroke="#1a1a1a" stroke-width="0.7"/>
<line x1="521.20" y1="263.41" x2="522.60" y2="263.41" stroke="#1a1a1a" stroke-width="0.7"/>
<line x1="521.20" y1="261.78" x2="522.60" y2="261.78" stroke="#1a1a1a" stroke-width="0.7"/>
<line x1="521.20" y1="260.36" x2="522.60" y2="260.36" stroke="#1a1a1a" stroke-width="0.7"/>
<line x1="521.20" y1="259.10" x2="522.60" y2="259.10" stroke="#1a1a1a" stroke-width="0.7"/>
<line x1="521.20" y1="257.98" x2="522.60" y2="257.98" stroke="#1a1a1a" stroke-width="0.7"/>
<line x1="521.20" y1="250.61" x2="522.60" y2="250.61" stroke="#1a1a1a" stroke-width="0.7"/>
<line x1="521.20" y1="246.30" x2="522.60" y2="246.30" stroke="#1a1a1a" stroke-width="0.7"/>
<line x1="521.20" y1="243.24" x2="522.60" y2="243.24" stroke="#1a1a1a" stroke-width="0.7"/>
<line x1="521.20" y1="240.87" x2="522.60" y2="240.87" stroke="#1a1a1a" stroke-width="0.7"/>
<line x1="521.20" y1="238.93" x2="522.60" y2="238.93" stroke="#1a1a1a" stroke-width="0.7"/>
<line x1="521.20" y1="237.29" x2="522.60" y2="237.29" stroke="#1a1a1a" stroke-width="0.7"/>
<line x1="521.20" y1="235.87" x2="522.60" y2="235.87" stroke="#1a1a1a" stroke-width="0.7"/>
<line x1="521.20" y1="234.62" x2="522.60" y2="234.62" stroke="#1a1a1a" stroke-width="0.7"/>
<path d="M521.20,233.00 L521.20,380.40 L699.50,380.40" fill="none" stroke="#1a1a1a" stroke-width="1.15"/>
<text x="508.30" y="404.80" font-size="15" font-family="Liberation Serif, serif">10<tspan dy="-6.7" dx="0.2" font-size="12">-2</tspan></text>
<text x="568.75" y="404.80" font-size="15" font-family="Liberation Serif, serif">10<tspan dy="-6.7" dx="0.2" font-size="12">-1</tspan></text>
<text x="632.59" y="404.80" font-size="15" font-family="Liberation Serif, serif">10<tspan dy="-6.7" dx="0.2" font-size="12">0</tspan></text>
<text x="493.40" y="388.00" font-size="15" font-family="Liberation Serif, serif">10<tspan dy="-6.7" dx="0.2" font-size="12">0</tspan></text>
<text x="493.40" y="339.03" font-size="15" font-family="Liberation Serif, serif">10<tspan dy="-6.7" dx="0.2" font-size="12">2</tspan></text>
<text x="493.40" y="290.07" font-size="15" font-family="Liberation Serif, serif">10<tspan dy="-6.7" dx="0.2" font-size="12">4</tspan></text>
<text x="493.40" y="241.10" font-size="15" font-family="Liberation Serif, serif">10<tspan dy="-6.7" dx="0.2" font-size="12">6</tspan></text>
<text x="583.69" y="422.40" font-size="14.82" textLength="32.90" lengthAdjust="spacingAndGlyphs"  font-family="Liberation Serif, serif">Time</text>
<text x="621.98" y="422.40" font-size="14.82" textLength="13.44" lengthAdjust="spacingAndGlyphs"  font-family="Liberation Serif, serif">[s]</text>
<g transform="translate(482.40,307.50) rotate(-90)"><text x="-56.12" y="0" font-size="14.82" textLength="88.09" lengthAdjust="spacingAndGlyphs"  font-family="Liberation Serif, serif">Ampere-turns</text><text x="37.36" y="0" font-size="14.82" textLength="18.66" lengthAdjust="spacingAndGlyphs"  font-family="Liberation Serif, serif">[A]</text></g>
<text x="493.00" y="222.40" font-size="14.3" stroke="#111" stroke-width="0.15" font-family="Liberation Serif, serif">f)</text>
<rect x="551.70" y="313.95" width="135.90" height="53.95" fill="#fff" stroke="#1c1c1c" stroke-width="1.3"/>
<line x1="556.30" y1="324.40" x2="601.20" y2="324.40" stroke="#222" stroke-width="1.05"/>
<text x="604.80" y="328.00" font-size="13.06" textLength="45.44" lengthAdjust="spacingAndGlyphs" stroke="#111" stroke-width="0.15" font-family="Liberation Serif, serif">winding</text>
<text x="655.17" y="328.00" font-size="13.06" textLength="26.53" lengthAdjust="spacingAndGlyphs" stroke="#111" stroke-width="0.15" font-family="Liberation Serif, serif">pack</text>
<line x1="556.30" y1="340.70" x2="601.20" y2="340.70" stroke="#222" stroke-width="1.05" stroke-dasharray="11.2 6.8"/>
<text x="604.80" y="344.90" font-size="13.06" textLength="29.91" lengthAdjust="spacingAndGlyphs" stroke="#111" stroke-width="0.15" font-family="Liberation Serif, serif">outer</text>
<text x="639.64" y="344.90" font-size="13.06" textLength="17.28" lengthAdjust="spacingAndGlyphs" stroke="#111" stroke-width="0.15" font-family="Liberation Serif, serif">alu</text>
<text x="661.87" y="344.90" font-size="13.06" textLength="18.80" lengthAdjust="spacingAndGlyphs" stroke="#111" stroke-width="0.15" font-family="Liberation Serif, serif">bar</text>
<line x1="556.30" y1="358.00" x2="601.20" y2="358.00" stroke="#222" stroke-width="1.05" stroke-dasharray="9.1 3.9 1.5 3.9"/>
<text x="605.00" y="361.60" font-size="13.06" textLength="29.17" lengthAdjust="spacingAndGlyphs" stroke="#111" stroke-width="0.15" font-family="Liberation Serif, serif">inner</text>
<text x="639.11" y="361.60" font-size="13.06" textLength="17.28" lengthAdjust="spacingAndGlyphs" stroke="#111" stroke-width="0.15" font-family="Liberation Serif, serif">alu</text>
<text x="661.33" y="361.60" font-size="13.06" textLength="18.80" lengthAdjust="spacingAndGlyphs" stroke="#111" stroke-width="0.15" font-family="Liberation Serif, serif">bar</text>
</svg>
</body></html>
